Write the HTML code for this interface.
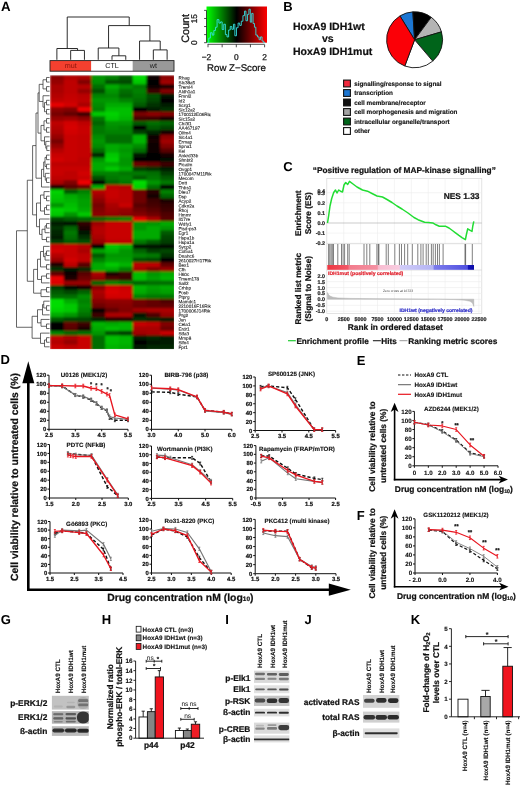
<!DOCTYPE html>
<html lang="en"><head><meta charset="utf-8"><title>Figure</title>
<style>
html,body{margin:0;padding:0;background:#fff;}
body{width:520px;height:785px;overflow:hidden;}
svg{display:block;font-family:"Liberation Sans",Arial,Helvetica,sans-serif;text-rendering:geometricPrecision;}
</style></head><body>
<svg width="520" height="785" viewBox="0 0 520 785">
<defs>
<filter id="hmblur" x="-5%" y="-5%" width="110%" height="110%"><feGaussianBlur stdDeviation="0.8"/></filter>
<filter id="bblur" x="-20%" y="-20%" width="140%" height="140%"><feGaussianBlur stdDeviation="0.6"/></filter>
<linearGradient id="keygrad" x1="0" x2="1" y1="0" y2="0"><stop offset="0" stop-color="#00ff00"/><stop offset="0.5" stop-color="#000000"/><stop offset="1" stop-color="#ff0000"/></linearGradient>
<linearGradient id="bandgrad" x1="0" x2="1" y1="0" y2="0">
<stop offset="0" stop-color="#ee3640"/><stop offset="0.14" stop-color="#f05868"/><stop offset="0.15" stop-color="#f27c8c"/><stop offset="0.34" stop-color="#f490a2"/>
<stop offset="0.35" stop-color="#f8bcd0"/><stop offset="0.49" stop-color="#f8cce0"/><stop offset="0.50" stop-color="#d0ccf8"/><stop offset="0.72" stop-color="#b4b4f4"/>
<stop offset="0.73" stop-color="#7c7cec"/><stop offset="0.955" stop-color="#5050e0"/><stop offset="0.96" stop-color="#1414b8"/><stop offset="1" stop-color="#0c0ca8"/>
</linearGradient>
</defs>
<rect width="520" height="785" fill="#fff"/>
<text x="0.90" y="10.80" font-size="13.3" font-weight="bold" fill="#000">A</text>
<g filter="url(#hmblur)">
<rect x="50.0" y="75.2" width="124.0" height="273.90" fill="#300"/>
<rect x="50.00" y="75.20" width="14.98" height="5.77" fill="#8c0000"/>
<rect x="63.78" y="75.20" width="14.98" height="5.77" fill="#b40000"/>
<rect x="77.56" y="75.20" width="14.98" height="5.77" fill="#aa0000"/>
<rect x="91.33" y="75.20" width="14.98" height="5.77" fill="#009600"/>
<rect x="105.11" y="75.20" width="14.98" height="5.77" fill="#008200"/>
<rect x="118.89" y="75.20" width="14.98" height="5.77" fill="#005a00"/>
<rect x="132.67" y="75.20" width="14.98" height="5.77" fill="#00dc00"/>
<rect x="146.44" y="75.20" width="14.98" height="5.77" fill="#0a0000"/>
<rect x="160.22" y="75.20" width="14.98" height="5.77" fill="#8c0000"/>
<rect x="50.00" y="79.77" width="14.98" height="5.77" fill="#960000"/>
<rect x="63.78" y="79.77" width="14.98" height="5.77" fill="#be0000"/>
<rect x="77.56" y="79.77" width="14.98" height="5.77" fill="#820000"/>
<rect x="91.33" y="79.77" width="14.98" height="5.77" fill="#008c00"/>
<rect x="105.11" y="79.77" width="14.98" height="5.77" fill="#005000"/>
<rect x="118.89" y="79.77" width="14.98" height="5.77" fill="#004b00"/>
<rect x="132.67" y="79.77" width="14.98" height="5.77" fill="#00c800"/>
<rect x="146.44" y="79.77" width="14.98" height="5.77" fill="#000000"/>
<rect x="160.22" y="79.77" width="14.98" height="5.77" fill="#a00000"/>
<rect x="50.00" y="84.33" width="14.98" height="5.77" fill="#aa0000"/>
<rect x="63.78" y="84.33" width="14.98" height="5.77" fill="#be0000"/>
<rect x="77.56" y="84.33" width="14.98" height="5.77" fill="#b40000"/>
<rect x="91.33" y="84.33" width="14.98" height="5.77" fill="#006e00"/>
<rect x="105.11" y="84.33" width="14.98" height="5.77" fill="#00aa00"/>
<rect x="118.89" y="84.33" width="14.98" height="5.77" fill="#008c00"/>
<rect x="132.67" y="84.33" width="14.98" height="5.77" fill="#007800"/>
<rect x="146.44" y="84.33" width="14.98" height="5.77" fill="#0a0000"/>
<rect x="160.22" y="84.33" width="14.98" height="5.77" fill="#230000"/>
<rect x="50.00" y="88.90" width="14.98" height="5.77" fill="#aa0000"/>
<rect x="63.78" y="88.90" width="14.98" height="5.77" fill="#be0000"/>
<rect x="77.56" y="88.90" width="14.98" height="5.77" fill="#960000"/>
<rect x="91.33" y="88.90" width="14.98" height="5.77" fill="#005000"/>
<rect x="105.11" y="88.90" width="14.98" height="5.77" fill="#009600"/>
<rect x="118.89" y="88.90" width="14.98" height="5.77" fill="#006e00"/>
<rect x="132.67" y="88.90" width="14.98" height="5.77" fill="#008200"/>
<rect x="146.44" y="88.90" width="14.98" height="5.77" fill="#3c0000"/>
<rect x="160.22" y="88.90" width="14.98" height="5.77" fill="#820000"/>
<rect x="50.00" y="93.46" width="14.98" height="5.77" fill="#b40000"/>
<rect x="63.78" y="93.46" width="14.98" height="5.77" fill="#c30000"/>
<rect x="77.56" y="93.46" width="14.98" height="5.77" fill="#b90000"/>
<rect x="91.33" y="93.46" width="14.98" height="5.77" fill="#008200"/>
<rect x="105.11" y="93.46" width="14.98" height="5.77" fill="#008700"/>
<rect x="118.89" y="93.46" width="14.98" height="5.77" fill="#006400"/>
<rect x="132.67" y="93.46" width="14.98" height="5.77" fill="#007800"/>
<rect x="146.44" y="93.46" width="14.98" height="5.77" fill="#005000"/>
<rect x="160.22" y="93.46" width="14.98" height="5.77" fill="#001400"/>
<rect x="50.00" y="98.03" width="14.98" height="5.77" fill="#be0000"/>
<rect x="63.78" y="98.03" width="14.98" height="5.77" fill="#c80000"/>
<rect x="77.56" y="98.03" width="14.98" height="5.77" fill="#be0000"/>
<rect x="91.33" y="98.03" width="14.98" height="5.77" fill="#009600"/>
<rect x="105.11" y="98.03" width="14.98" height="5.77" fill="#009600"/>
<rect x="118.89" y="98.03" width="14.98" height="5.77" fill="#008200"/>
<rect x="132.67" y="98.03" width="14.98" height="5.77" fill="#006e00"/>
<rect x="146.44" y="98.03" width="14.98" height="5.77" fill="#004600"/>
<rect x="160.22" y="98.03" width="14.98" height="5.77" fill="#000000"/>
<rect x="50.00" y="102.59" width="14.98" height="5.77" fill="#e60000"/>
<rect x="63.78" y="102.59" width="14.98" height="5.77" fill="#d20000"/>
<rect x="77.56" y="102.59" width="14.98" height="5.77" fill="#aa0000"/>
<rect x="91.33" y="102.59" width="14.98" height="5.77" fill="#008c00"/>
<rect x="105.11" y="102.59" width="14.98" height="5.77" fill="#00aa00"/>
<rect x="118.89" y="102.59" width="14.98" height="5.77" fill="#00aa00"/>
<rect x="132.67" y="102.59" width="14.98" height="5.77" fill="#005a00"/>
<rect x="146.44" y="102.59" width="14.98" height="5.77" fill="#003200"/>
<rect x="160.22" y="102.59" width="14.98" height="5.77" fill="#001e00"/>
<rect x="50.00" y="107.16" width="14.98" height="5.77" fill="#8c0000"/>
<rect x="63.78" y="107.16" width="14.98" height="5.77" fill="#820000"/>
<rect x="77.56" y="107.16" width="14.98" height="5.77" fill="#f00000"/>
<rect x="91.33" y="107.16" width="14.98" height="5.77" fill="#008200"/>
<rect x="105.11" y="107.16" width="14.98" height="5.77" fill="#00be00"/>
<rect x="118.89" y="107.16" width="14.98" height="5.77" fill="#00be00"/>
<rect x="132.67" y="107.16" width="14.98" height="5.77" fill="#000000"/>
<rect x="146.44" y="107.16" width="14.98" height="5.77" fill="#001e00"/>
<rect x="160.22" y="107.16" width="14.98" height="5.77" fill="#003200"/>
<rect x="50.00" y="111.72" width="14.98" height="5.77" fill="#780000"/>
<rect x="63.78" y="111.72" width="14.98" height="5.77" fill="#640000"/>
<rect x="77.56" y="111.72" width="14.98" height="5.77" fill="#3c0000"/>
<rect x="91.33" y="111.72" width="14.98" height="5.77" fill="#00c800"/>
<rect x="105.11" y="111.72" width="14.98" height="5.77" fill="#00d200"/>
<rect x="118.89" y="111.72" width="14.98" height="5.77" fill="#00be00"/>
<rect x="132.67" y="111.72" width="14.98" height="5.77" fill="#780000"/>
<rect x="146.44" y="111.72" width="14.98" height="5.77" fill="#8c0000"/>
<rect x="160.22" y="111.72" width="14.98" height="5.77" fill="#820000"/>
<rect x="50.00" y="116.28" width="14.98" height="5.77" fill="#960000"/>
<rect x="63.78" y="116.28" width="14.98" height="5.77" fill="#a00000"/>
<rect x="77.56" y="116.28" width="14.98" height="5.77" fill="#8c0000"/>
<rect x="91.33" y="116.28" width="14.98" height="5.77" fill="#007800"/>
<rect x="105.11" y="116.28" width="14.98" height="5.77" fill="#00c800"/>
<rect x="118.89" y="116.28" width="14.98" height="5.77" fill="#00b400"/>
<rect x="132.67" y="116.28" width="14.98" height="5.77" fill="#460000"/>
<rect x="146.44" y="116.28" width="14.98" height="5.77" fill="#3c0000"/>
<rect x="160.22" y="116.28" width="14.98" height="5.77" fill="#1e0000"/>
<rect x="50.00" y="120.85" width="14.98" height="5.77" fill="#be0000"/>
<rect x="63.78" y="120.85" width="14.98" height="5.77" fill="#d20000"/>
<rect x="77.56" y="120.85" width="14.98" height="5.77" fill="#be0000"/>
<rect x="91.33" y="120.85" width="14.98" height="5.77" fill="#006400"/>
<rect x="105.11" y="120.85" width="14.98" height="5.77" fill="#009600"/>
<rect x="118.89" y="120.85" width="14.98" height="5.77" fill="#009600"/>
<rect x="132.67" y="120.85" width="14.98" height="5.77" fill="#005a00"/>
<rect x="146.44" y="120.85" width="14.98" height="5.77" fill="#006e00"/>
<rect x="160.22" y="120.85" width="14.98" height="5.77" fill="#006400"/>
<rect x="50.00" y="125.42" width="14.98" height="5.77" fill="#b40000"/>
<rect x="63.78" y="125.42" width="14.98" height="5.77" fill="#d70000"/>
<rect x="77.56" y="125.42" width="14.98" height="5.77" fill="#c80000"/>
<rect x="91.33" y="125.42" width="14.98" height="5.77" fill="#007800"/>
<rect x="105.11" y="125.42" width="14.98" height="5.77" fill="#008c00"/>
<rect x="118.89" y="125.42" width="14.98" height="5.77" fill="#008200"/>
<rect x="132.67" y="125.42" width="14.98" height="5.77" fill="#000000"/>
<rect x="146.44" y="125.42" width="14.98" height="5.77" fill="#005a00"/>
<rect x="160.22" y="125.42" width="14.98" height="5.77" fill="#004600"/>
<rect x="50.00" y="129.98" width="14.98" height="5.77" fill="#aa0000"/>
<rect x="63.78" y="129.98" width="14.98" height="5.77" fill="#d20000"/>
<rect x="77.56" y="129.98" width="14.98" height="5.77" fill="#c80000"/>
<rect x="91.33" y="129.98" width="14.98" height="5.77" fill="#007800"/>
<rect x="105.11" y="129.98" width="14.98" height="5.77" fill="#008200"/>
<rect x="118.89" y="129.98" width="14.98" height="5.77" fill="#008200"/>
<rect x="132.67" y="129.98" width="14.98" height="5.77" fill="#003c00"/>
<rect x="146.44" y="129.98" width="14.98" height="5.77" fill="#002800"/>
<rect x="160.22" y="129.98" width="14.98" height="5.77" fill="#140000"/>
<rect x="50.00" y="134.55" width="14.98" height="5.77" fill="#960000"/>
<rect x="63.78" y="134.55" width="14.98" height="5.77" fill="#c80000"/>
<rect x="77.56" y="134.55" width="14.98" height="5.77" fill="#c30000"/>
<rect x="91.33" y="134.55" width="14.98" height="5.77" fill="#008c00"/>
<rect x="105.11" y="134.55" width="14.98" height="5.77" fill="#006e00"/>
<rect x="118.89" y="134.55" width="14.98" height="5.77" fill="#006e00"/>
<rect x="132.67" y="134.55" width="14.98" height="5.77" fill="#00b400"/>
<rect x="146.44" y="134.55" width="14.98" height="5.77" fill="#0a0000"/>
<rect x="160.22" y="134.55" width="14.98" height="5.77" fill="#8c0000"/>
<rect x="50.00" y="139.11" width="14.98" height="5.77" fill="#780000"/>
<rect x="63.78" y="139.11" width="14.98" height="5.77" fill="#c80000"/>
<rect x="77.56" y="139.11" width="14.98" height="5.77" fill="#c30000"/>
<rect x="91.33" y="139.11" width="14.98" height="5.77" fill="#009600"/>
<rect x="105.11" y="139.11" width="14.98" height="5.77" fill="#006e00"/>
<rect x="118.89" y="139.11" width="14.98" height="5.77" fill="#006e00"/>
<rect x="132.67" y="139.11" width="14.98" height="5.77" fill="#00b400"/>
<rect x="146.44" y="139.11" width="14.98" height="5.77" fill="#140000"/>
<rect x="160.22" y="139.11" width="14.98" height="5.77" fill="#a00000"/>
<rect x="50.00" y="143.68" width="14.98" height="5.77" fill="#960000"/>
<rect x="63.78" y="143.68" width="14.98" height="5.77" fill="#c80000"/>
<rect x="77.56" y="143.68" width="14.98" height="5.77" fill="#c30000"/>
<rect x="91.33" y="143.68" width="14.98" height="5.77" fill="#008c00"/>
<rect x="105.11" y="143.68" width="14.98" height="5.77" fill="#00aa00"/>
<rect x="118.89" y="143.68" width="14.98" height="5.77" fill="#00a000"/>
<rect x="132.67" y="143.68" width="14.98" height="5.77" fill="#008c00"/>
<rect x="146.44" y="143.68" width="14.98" height="5.77" fill="#0a0000"/>
<rect x="160.22" y="143.68" width="14.98" height="5.77" fill="#820000"/>
<rect x="50.00" y="148.24" width="14.98" height="5.77" fill="#b40000"/>
<rect x="63.78" y="148.24" width="14.98" height="5.77" fill="#c80000"/>
<rect x="77.56" y="148.24" width="14.98" height="5.77" fill="#c30000"/>
<rect x="91.33" y="148.24" width="14.98" height="5.77" fill="#006e00"/>
<rect x="105.11" y="148.24" width="14.98" height="5.77" fill="#00aa00"/>
<rect x="118.89" y="148.24" width="14.98" height="5.77" fill="#009600"/>
<rect x="132.67" y="148.24" width="14.98" height="5.77" fill="#006e00"/>
<rect x="146.44" y="148.24" width="14.98" height="5.77" fill="#0a0000"/>
<rect x="160.22" y="148.24" width="14.98" height="5.77" fill="#5a0000"/>
<rect x="50.00" y="152.81" width="14.98" height="5.77" fill="#c80000"/>
<rect x="63.78" y="152.81" width="14.98" height="5.77" fill="#c80000"/>
<rect x="77.56" y="152.81" width="14.98" height="5.77" fill="#c30000"/>
<rect x="91.33" y="152.81" width="14.98" height="5.77" fill="#002800"/>
<rect x="105.11" y="152.81" width="14.98" height="5.77" fill="#00c800"/>
<rect x="118.89" y="152.81" width="14.98" height="5.77" fill="#00a000"/>
<rect x="132.67" y="152.81" width="14.98" height="5.77" fill="#001400"/>
<rect x="146.44" y="152.81" width="14.98" height="5.77" fill="#000000"/>
<rect x="160.22" y="152.81" width="14.98" height="5.77" fill="#140000"/>
<rect x="50.00" y="157.37" width="14.98" height="5.77" fill="#d20000"/>
<rect x="63.78" y="157.37" width="14.98" height="5.77" fill="#c80000"/>
<rect x="77.56" y="157.37" width="14.98" height="5.77" fill="#be0000"/>
<rect x="91.33" y="157.37" width="14.98" height="5.77" fill="#009600"/>
<rect x="105.11" y="157.37" width="14.98" height="5.77" fill="#00d200"/>
<rect x="118.89" y="157.37" width="14.98" height="5.77" fill="#009600"/>
<rect x="132.67" y="157.37" width="14.98" height="5.77" fill="#000000"/>
<rect x="146.44" y="157.37" width="14.98" height="5.77" fill="#000000"/>
<rect x="160.22" y="157.37" width="14.98" height="5.77" fill="#000a00"/>
<rect x="50.00" y="161.94" width="14.98" height="5.77" fill="#be0000"/>
<rect x="63.78" y="161.94" width="14.98" height="5.77" fill="#be0000"/>
<rect x="77.56" y="161.94" width="14.98" height="5.77" fill="#be0000"/>
<rect x="91.33" y="161.94" width="14.98" height="5.77" fill="#00aa00"/>
<rect x="105.11" y="161.94" width="14.98" height="5.77" fill="#00aa00"/>
<rect x="118.89" y="161.94" width="14.98" height="5.77" fill="#009600"/>
<rect x="132.67" y="161.94" width="14.98" height="5.77" fill="#6e0000"/>
<rect x="146.44" y="161.94" width="14.98" height="5.77" fill="#640000"/>
<rect x="160.22" y="161.94" width="14.98" height="5.77" fill="#3c0000"/>
<rect x="50.00" y="166.50" width="14.98" height="5.77" fill="#c80000"/>
<rect x="63.78" y="166.50" width="14.98" height="5.77" fill="#c80000"/>
<rect x="77.56" y="166.50" width="14.98" height="5.77" fill="#c80000"/>
<rect x="91.33" y="166.50" width="14.98" height="5.77" fill="#00aa00"/>
<rect x="105.11" y="166.50" width="14.98" height="5.77" fill="#00c800"/>
<rect x="118.89" y="166.50" width="14.98" height="5.77" fill="#00aa00"/>
<rect x="132.67" y="166.50" width="14.98" height="5.77" fill="#003c00"/>
<rect x="146.44" y="166.50" width="14.98" height="5.77" fill="#003200"/>
<rect x="160.22" y="166.50" width="14.98" height="5.77" fill="#001e00"/>
<rect x="50.00" y="171.06" width="14.98" height="5.77" fill="#c80000"/>
<rect x="63.78" y="171.06" width="14.98" height="5.77" fill="#be0000"/>
<rect x="77.56" y="171.06" width="14.98" height="5.77" fill="#d20000"/>
<rect x="91.33" y="171.06" width="14.98" height="5.77" fill="#008200"/>
<rect x="105.11" y="171.06" width="14.98" height="5.77" fill="#008200"/>
<rect x="118.89" y="171.06" width="14.98" height="5.77" fill="#007800"/>
<rect x="132.67" y="171.06" width="14.98" height="5.77" fill="#007800"/>
<rect x="146.44" y="171.06" width="14.98" height="5.77" fill="#006e00"/>
<rect x="160.22" y="171.06" width="14.98" height="5.77" fill="#003c00"/>
<rect x="50.00" y="175.63" width="14.98" height="5.77" fill="#be0000"/>
<rect x="63.78" y="175.63" width="14.98" height="5.77" fill="#be0000"/>
<rect x="77.56" y="175.63" width="14.98" height="5.77" fill="#c80000"/>
<rect x="91.33" y="175.63" width="14.98" height="5.77" fill="#005000"/>
<rect x="105.11" y="175.63" width="14.98" height="5.77" fill="#007800"/>
<rect x="118.89" y="175.63" width="14.98" height="5.77" fill="#008200"/>
<rect x="132.67" y="175.63" width="14.98" height="5.77" fill="#005a00"/>
<rect x="146.44" y="175.63" width="14.98" height="5.77" fill="#007800"/>
<rect x="160.22" y="175.63" width="14.98" height="5.77" fill="#005a00"/>
<rect x="50.00" y="180.19" width="14.98" height="5.77" fill="#aa0000"/>
<rect x="63.78" y="180.19" width="14.98" height="5.77" fill="#820000"/>
<rect x="77.56" y="180.19" width="14.98" height="5.77" fill="#f00000"/>
<rect x="91.33" y="180.19" width="14.98" height="5.77" fill="#000000"/>
<rect x="105.11" y="180.19" width="14.98" height="5.77" fill="#006400"/>
<rect x="118.89" y="180.19" width="14.98" height="5.77" fill="#007800"/>
<rect x="132.67" y="180.19" width="14.98" height="5.77" fill="#00dc00"/>
<rect x="146.44" y="180.19" width="14.98" height="5.77" fill="#009600"/>
<rect x="160.22" y="180.19" width="14.98" height="5.77" fill="#007800"/>
<rect x="50.00" y="184.76" width="14.98" height="5.77" fill="#1e0000"/>
<rect x="63.78" y="184.76" width="14.98" height="5.77" fill="#5a0000"/>
<rect x="77.56" y="184.76" width="14.98" height="5.77" fill="#6e0000"/>
<rect x="91.33" y="184.76" width="14.98" height="5.77" fill="#00aa00"/>
<rect x="105.11" y="184.76" width="14.98" height="5.77" fill="#be0000"/>
<rect x="118.89" y="184.76" width="14.98" height="5.77" fill="#b40000"/>
<rect x="132.67" y="184.76" width="14.98" height="5.77" fill="#00d200"/>
<rect x="146.44" y="184.76" width="14.98" height="5.77" fill="#006e00"/>
<rect x="160.22" y="184.76" width="14.98" height="5.77" fill="#000000"/>
<rect x="50.00" y="189.33" width="14.98" height="5.77" fill="#00d200"/>
<rect x="63.78" y="189.33" width="14.98" height="5.77" fill="#005a00"/>
<rect x="77.56" y="189.33" width="14.98" height="5.77" fill="#008200"/>
<rect x="91.33" y="189.33" width="14.98" height="5.77" fill="#b40000"/>
<rect x="105.11" y="189.33" width="14.98" height="5.77" fill="#c80000"/>
<rect x="118.89" y="189.33" width="14.98" height="5.77" fill="#be0000"/>
<rect x="132.67" y="189.33" width="14.98" height="5.77" fill="#6e0000"/>
<rect x="146.44" y="189.33" width="14.98" height="5.77" fill="#280000"/>
<rect x="160.22" y="189.33" width="14.98" height="5.77" fill="#008200"/>
<rect x="50.00" y="193.89" width="14.98" height="5.77" fill="#00c800"/>
<rect x="63.78" y="193.89" width="14.98" height="5.77" fill="#00aa00"/>
<rect x="77.56" y="193.89" width="14.98" height="5.77" fill="#009600"/>
<rect x="91.33" y="193.89" width="14.98" height="5.77" fill="#a00000"/>
<rect x="105.11" y="193.89" width="14.98" height="5.77" fill="#c80000"/>
<rect x="118.89" y="193.89" width="14.98" height="5.77" fill="#be0000"/>
<rect x="132.67" y="193.89" width="14.98" height="5.77" fill="#6e0000"/>
<rect x="146.44" y="193.89" width="14.98" height="5.77" fill="#140000"/>
<rect x="160.22" y="193.89" width="14.98" height="5.77" fill="#006400"/>
<rect x="50.00" y="198.46" width="14.98" height="5.77" fill="#00be00"/>
<rect x="63.78" y="198.46" width="14.98" height="5.77" fill="#00b400"/>
<rect x="77.56" y="198.46" width="14.98" height="5.77" fill="#00a000"/>
<rect x="91.33" y="198.46" width="14.98" height="5.77" fill="#8c0000"/>
<rect x="105.11" y="198.46" width="14.98" height="5.77" fill="#be0000"/>
<rect x="118.89" y="198.46" width="14.98" height="5.77" fill="#be0000"/>
<rect x="132.67" y="198.46" width="14.98" height="5.77" fill="#6e0000"/>
<rect x="146.44" y="198.46" width="14.98" height="5.77" fill="#3c0000"/>
<rect x="160.22" y="198.46" width="14.98" height="5.77" fill="#1e0000"/>
<rect x="50.00" y="203.02" width="14.98" height="5.77" fill="#009600"/>
<rect x="63.78" y="203.02" width="14.98" height="5.77" fill="#00be00"/>
<rect x="77.56" y="203.02" width="14.98" height="5.77" fill="#00a000"/>
<rect x="91.33" y="203.02" width="14.98" height="5.77" fill="#780000"/>
<rect x="105.11" y="203.02" width="14.98" height="5.77" fill="#aa0000"/>
<rect x="118.89" y="203.02" width="14.98" height="5.77" fill="#c80000"/>
<rect x="132.67" y="203.02" width="14.98" height="5.77" fill="#5a0000"/>
<rect x="146.44" y="203.02" width="14.98" height="5.77" fill="#460000"/>
<rect x="160.22" y="203.02" width="14.98" height="5.77" fill="#320000"/>
<rect x="50.00" y="207.59" width="14.98" height="5.77" fill="#00d200"/>
<rect x="63.78" y="207.59" width="14.98" height="5.77" fill="#00c800"/>
<rect x="77.56" y="207.59" width="14.98" height="5.77" fill="#00aa00"/>
<rect x="91.33" y="207.59" width="14.98" height="5.77" fill="#820000"/>
<rect x="105.11" y="207.59" width="14.98" height="5.77" fill="#a00000"/>
<rect x="118.89" y="207.59" width="14.98" height="5.77" fill="#960000"/>
<rect x="132.67" y="207.59" width="14.98" height="5.77" fill="#6e0000"/>
<rect x="146.44" y="207.59" width="14.98" height="5.77" fill="#5a0000"/>
<rect x="160.22" y="207.59" width="14.98" height="5.77" fill="#3c0000"/>
<rect x="50.00" y="212.15" width="14.98" height="5.77" fill="#00c800"/>
<rect x="63.78" y="212.15" width="14.98" height="5.77" fill="#009600"/>
<rect x="77.56" y="212.15" width="14.98" height="5.77" fill="#00c800"/>
<rect x="91.33" y="212.15" width="14.98" height="5.77" fill="#8c0000"/>
<rect x="105.11" y="212.15" width="14.98" height="5.77" fill="#960000"/>
<rect x="118.89" y="212.15" width="14.98" height="5.77" fill="#8c0000"/>
<rect x="132.67" y="212.15" width="14.98" height="5.77" fill="#820000"/>
<rect x="146.44" y="212.15" width="14.98" height="5.77" fill="#6e0000"/>
<rect x="160.22" y="212.15" width="14.98" height="5.77" fill="#500000"/>
<rect x="50.00" y="216.72" width="14.98" height="5.77" fill="#004600"/>
<rect x="63.78" y="216.72" width="14.98" height="5.77" fill="#005a00"/>
<rect x="77.56" y="216.72" width="14.98" height="5.77" fill="#006400"/>
<rect x="91.33" y="216.72" width="14.98" height="5.77" fill="#006400"/>
<rect x="105.11" y="216.72" width="14.98" height="5.77" fill="#007800"/>
<rect x="118.89" y="216.72" width="14.98" height="5.77" fill="#008200"/>
<rect x="132.67" y="216.72" width="14.98" height="5.77" fill="#e60000"/>
<rect x="146.44" y="216.72" width="14.98" height="5.77" fill="#aa0000"/>
<rect x="160.22" y="216.72" width="14.98" height="5.77" fill="#5a0000"/>
<rect x="50.00" y="221.28" width="14.98" height="5.77" fill="#001e00"/>
<rect x="63.78" y="221.28" width="14.98" height="5.77" fill="#001400"/>
<rect x="77.56" y="221.28" width="14.98" height="5.77" fill="#320000"/>
<rect x="91.33" y="221.28" width="14.98" height="5.77" fill="#a00000"/>
<rect x="105.11" y="221.28" width="14.98" height="5.77" fill="#c80000"/>
<rect x="118.89" y="221.28" width="14.98" height="5.77" fill="#c80000"/>
<rect x="132.67" y="221.28" width="14.98" height="5.77" fill="#009600"/>
<rect x="146.44" y="221.28" width="14.98" height="5.77" fill="#009600"/>
<rect x="160.22" y="221.28" width="14.98" height="5.77" fill="#00aa00"/>
<rect x="50.00" y="225.85" width="14.98" height="5.77" fill="#003200"/>
<rect x="63.78" y="225.85" width="14.98" height="5.77" fill="#006400"/>
<rect x="77.56" y="225.85" width="14.98" height="5.77" fill="#1e0000"/>
<rect x="91.33" y="225.85" width="14.98" height="5.77" fill="#b40000"/>
<rect x="105.11" y="225.85" width="14.98" height="5.77" fill="#c80000"/>
<rect x="118.89" y="225.85" width="14.98" height="5.77" fill="#c80000"/>
<rect x="132.67" y="225.85" width="14.98" height="5.77" fill="#009600"/>
<rect x="146.44" y="225.85" width="14.98" height="5.77" fill="#00aa00"/>
<rect x="160.22" y="225.85" width="14.98" height="5.77" fill="#009600"/>
<rect x="50.00" y="230.41" width="14.98" height="5.77" fill="#002800"/>
<rect x="63.78" y="230.41" width="14.98" height="5.77" fill="#007800"/>
<rect x="77.56" y="230.41" width="14.98" height="5.77" fill="#001400"/>
<rect x="91.33" y="230.41" width="14.98" height="5.77" fill="#b40000"/>
<rect x="105.11" y="230.41" width="14.98" height="5.77" fill="#c80000"/>
<rect x="118.89" y="230.41" width="14.98" height="5.77" fill="#c80000"/>
<rect x="132.67" y="230.41" width="14.98" height="5.77" fill="#00aa00"/>
<rect x="146.44" y="230.41" width="14.98" height="5.77" fill="#00aa00"/>
<rect x="160.22" y="230.41" width="14.98" height="5.77" fill="#005a00"/>
<rect x="50.00" y="234.98" width="14.98" height="5.77" fill="#001e00"/>
<rect x="63.78" y="234.98" width="14.98" height="5.77" fill="#006e00"/>
<rect x="77.56" y="234.98" width="14.98" height="5.77" fill="#003200"/>
<rect x="91.33" y="234.98" width="14.98" height="5.77" fill="#aa0000"/>
<rect x="105.11" y="234.98" width="14.98" height="5.77" fill="#c80000"/>
<rect x="118.89" y="234.98" width="14.98" height="5.77" fill="#c80000"/>
<rect x="132.67" y="234.98" width="14.98" height="5.77" fill="#00aa00"/>
<rect x="146.44" y="234.98" width="14.98" height="5.77" fill="#00aa00"/>
<rect x="160.22" y="234.98" width="14.98" height="5.77" fill="#004600"/>
<rect x="50.00" y="239.54" width="14.98" height="5.77" fill="#003c00"/>
<rect x="63.78" y="239.54" width="14.98" height="5.77" fill="#005a00"/>
<rect x="77.56" y="239.54" width="14.98" height="5.77" fill="#005000"/>
<rect x="91.33" y="239.54" width="14.98" height="5.77" fill="#960000"/>
<rect x="105.11" y="239.54" width="14.98" height="5.77" fill="#be0000"/>
<rect x="118.89" y="239.54" width="14.98" height="5.77" fill="#be0000"/>
<rect x="132.67" y="239.54" width="14.98" height="5.77" fill="#007800"/>
<rect x="146.44" y="239.54" width="14.98" height="5.77" fill="#005a00"/>
<rect x="160.22" y="239.54" width="14.98" height="5.77" fill="#003c00"/>
<rect x="50.00" y="244.11" width="14.98" height="5.77" fill="#c80000"/>
<rect x="63.78" y="244.11" width="14.98" height="5.77" fill="#c80000"/>
<rect x="77.56" y="244.11" width="14.98" height="5.77" fill="#b40000"/>
<rect x="91.33" y="244.11" width="14.98" height="5.77" fill="#000000"/>
<rect x="105.11" y="244.11" width="14.98" height="5.77" fill="#00c800"/>
<rect x="118.89" y="244.11" width="14.98" height="5.77" fill="#00b400"/>
<rect x="132.67" y="244.11" width="14.98" height="5.77" fill="#001400"/>
<rect x="146.44" y="244.11" width="14.98" height="5.77" fill="#001400"/>
<rect x="160.22" y="244.11" width="14.98" height="5.77" fill="#000a00"/>
<rect x="50.00" y="248.67" width="14.98" height="5.77" fill="#d20000"/>
<rect x="63.78" y="248.67" width="14.98" height="5.77" fill="#c80000"/>
<rect x="77.56" y="248.67" width="14.98" height="5.77" fill="#aa0000"/>
<rect x="91.33" y="248.67" width="14.98" height="5.77" fill="#00a000"/>
<rect x="105.11" y="248.67" width="14.98" height="5.77" fill="#00b400"/>
<rect x="118.89" y="248.67" width="14.98" height="5.77" fill="#009600"/>
<rect x="132.67" y="248.67" width="14.98" height="5.77" fill="#006400"/>
<rect x="146.44" y="248.67" width="14.98" height="5.77" fill="#003c00"/>
<rect x="160.22" y="248.67" width="14.98" height="5.77" fill="#004600"/>
<rect x="50.00" y="253.24" width="14.98" height="5.77" fill="#b40000"/>
<rect x="63.78" y="253.24" width="14.98" height="5.77" fill="#c80000"/>
<rect x="77.56" y="253.24" width="14.98" height="5.77" fill="#be0000"/>
<rect x="91.33" y="253.24" width="14.98" height="5.77" fill="#005a00"/>
<rect x="105.11" y="253.24" width="14.98" height="5.77" fill="#009600"/>
<rect x="118.89" y="253.24" width="14.98" height="5.77" fill="#009600"/>
<rect x="132.67" y="253.24" width="14.98" height="5.77" fill="#008200"/>
<rect x="146.44" y="253.24" width="14.98" height="5.77" fill="#007800"/>
<rect x="160.22" y="253.24" width="14.98" height="5.77" fill="#003200"/>
<rect x="50.00" y="257.80" width="14.98" height="5.77" fill="#960000"/>
<rect x="63.78" y="257.80" width="14.98" height="5.77" fill="#d20000"/>
<rect x="77.56" y="257.80" width="14.98" height="5.77" fill="#be0000"/>
<rect x="91.33" y="257.80" width="14.98" height="5.77" fill="#008200"/>
<rect x="105.11" y="257.80" width="14.98" height="5.77" fill="#00a000"/>
<rect x="118.89" y="257.80" width="14.98" height="5.77" fill="#00a000"/>
<rect x="132.67" y="257.80" width="14.98" height="5.77" fill="#005000"/>
<rect x="146.44" y="257.80" width="14.98" height="5.77" fill="#004600"/>
<rect x="160.22" y="257.80" width="14.98" height="5.77" fill="#000000"/>
<rect x="50.00" y="262.37" width="14.98" height="5.77" fill="#1e0000"/>
<rect x="63.78" y="262.37" width="14.98" height="5.77" fill="#be0000"/>
<rect x="77.56" y="262.37" width="14.98" height="5.77" fill="#5a0000"/>
<rect x="91.33" y="262.37" width="14.98" height="5.77" fill="#00aa00"/>
<rect x="105.11" y="262.37" width="14.98" height="5.77" fill="#00c800"/>
<rect x="118.89" y="262.37" width="14.98" height="5.77" fill="#00b400"/>
<rect x="132.67" y="262.37" width="14.98" height="5.77" fill="#be0000"/>
<rect x="146.44" y="262.37" width="14.98" height="5.77" fill="#be0000"/>
<rect x="160.22" y="262.37" width="14.98" height="5.77" fill="#640000"/>
<rect x="50.00" y="266.93" width="14.98" height="5.77" fill="#003200"/>
<rect x="63.78" y="266.93" width="14.98" height="5.77" fill="#001400"/>
<rect x="77.56" y="266.93" width="14.98" height="5.77" fill="#002800"/>
<rect x="91.33" y="266.93" width="14.98" height="5.77" fill="#00aa00"/>
<rect x="105.11" y="266.93" width="14.98" height="5.77" fill="#00aa00"/>
<rect x="118.89" y="266.93" width="14.98" height="5.77" fill="#008200"/>
<rect x="132.67" y="266.93" width="14.98" height="5.77" fill="#aa0000"/>
<rect x="146.44" y="266.93" width="14.98" height="5.77" fill="#820000"/>
<rect x="160.22" y="266.93" width="14.98" height="5.77" fill="#960000"/>
<rect x="50.00" y="271.50" width="14.98" height="5.77" fill="#640000"/>
<rect x="63.78" y="271.50" width="14.98" height="5.77" fill="#0a0000"/>
<rect x="77.56" y="271.50" width="14.98" height="5.77" fill="#5a0000"/>
<rect x="91.33" y="271.50" width="14.98" height="5.77" fill="#aa0000"/>
<rect x="105.11" y="271.50" width="14.98" height="5.77" fill="#1e0000"/>
<rect x="118.89" y="271.50" width="14.98" height="5.77" fill="#3c0000"/>
<rect x="132.67" y="271.50" width="14.98" height="5.77" fill="#00be00"/>
<rect x="146.44" y="271.50" width="14.98" height="5.77" fill="#009600"/>
<rect x="160.22" y="271.50" width="14.98" height="5.77" fill="#00aa00"/>
<rect x="50.00" y="276.06" width="14.98" height="5.77" fill="#e60000"/>
<rect x="63.78" y="276.06" width="14.98" height="5.77" fill="#1e0000"/>
<rect x="77.56" y="276.06" width="14.98" height="5.77" fill="#6e0000"/>
<rect x="91.33" y="276.06" width="14.98" height="5.77" fill="#960000"/>
<rect x="105.11" y="276.06" width="14.98" height="5.77" fill="#500000"/>
<rect x="118.89" y="276.06" width="14.98" height="5.77" fill="#3c0000"/>
<rect x="132.67" y="276.06" width="14.98" height="5.77" fill="#00be00"/>
<rect x="146.44" y="276.06" width="14.98" height="5.77" fill="#00a000"/>
<rect x="160.22" y="276.06" width="14.98" height="5.77" fill="#00b400"/>
<rect x="50.00" y="280.62" width="14.98" height="5.77" fill="#dc0000"/>
<rect x="63.78" y="280.62" width="14.98" height="5.77" fill="#960000"/>
<rect x="77.56" y="280.62" width="14.98" height="5.77" fill="#960000"/>
<rect x="91.33" y="280.62" width="14.98" height="5.77" fill="#006400"/>
<rect x="105.11" y="280.62" width="14.98" height="5.77" fill="#008200"/>
<rect x="118.89" y="280.62" width="14.98" height="5.77" fill="#007800"/>
<rect x="132.67" y="280.62" width="14.98" height="5.77" fill="#006400"/>
<rect x="146.44" y="280.62" width="14.98" height="5.77" fill="#006e00"/>
<rect x="160.22" y="280.62" width="14.98" height="5.77" fill="#006e00"/>
<rect x="50.00" y="285.19" width="14.98" height="5.77" fill="#003c00"/>
<rect x="63.78" y="285.19" width="14.98" height="5.77" fill="#000a00"/>
<rect x="77.56" y="285.19" width="14.98" height="5.77" fill="#1e0000"/>
<rect x="91.33" y="285.19" width="14.98" height="5.77" fill="#8c0000"/>
<rect x="105.11" y="285.19" width="14.98" height="5.77" fill="#d20000"/>
<rect x="118.89" y="285.19" width="14.98" height="5.77" fill="#c80000"/>
<rect x="132.67" y="285.19" width="14.98" height="5.77" fill="#00b400"/>
<rect x="146.44" y="285.19" width="14.98" height="5.77" fill="#00a000"/>
<rect x="160.22" y="285.19" width="14.98" height="5.77" fill="#00aa00"/>
<rect x="50.00" y="289.75" width="14.98" height="5.77" fill="#005a00"/>
<rect x="63.78" y="289.75" width="14.98" height="5.77" fill="#004600"/>
<rect x="77.56" y="289.75" width="14.98" height="5.77" fill="#006400"/>
<rect x="91.33" y="289.75" width="14.98" height="5.77" fill="#aa0000"/>
<rect x="105.11" y="289.75" width="14.98" height="5.77" fill="#dc0000"/>
<rect x="118.89" y="289.75" width="14.98" height="5.77" fill="#d20000"/>
<rect x="132.67" y="289.75" width="14.98" height="5.77" fill="#00aa00"/>
<rect x="146.44" y="289.75" width="14.98" height="5.77" fill="#009600"/>
<rect x="160.22" y="289.75" width="14.98" height="5.77" fill="#00a000"/>
<rect x="50.00" y="294.32" width="14.98" height="5.77" fill="#006e00"/>
<rect x="63.78" y="294.32" width="14.98" height="5.77" fill="#006e00"/>
<rect x="77.56" y="294.32" width="14.98" height="5.77" fill="#008c00"/>
<rect x="91.33" y="294.32" width="14.98" height="5.77" fill="#a00000"/>
<rect x="105.11" y="294.32" width="14.98" height="5.77" fill="#d20000"/>
<rect x="118.89" y="294.32" width="14.98" height="5.77" fill="#d20000"/>
<rect x="132.67" y="294.32" width="14.98" height="5.77" fill="#008200"/>
<rect x="146.44" y="294.32" width="14.98" height="5.77" fill="#007800"/>
<rect x="160.22" y="294.32" width="14.98" height="5.77" fill="#007800"/>
<rect x="50.00" y="298.89" width="14.98" height="5.77" fill="#00dc00"/>
<rect x="63.78" y="298.89" width="14.98" height="5.77" fill="#00aa00"/>
<rect x="77.56" y="298.89" width="14.98" height="5.77" fill="#008200"/>
<rect x="91.33" y="298.89" width="14.98" height="5.77" fill="#870000"/>
<rect x="105.11" y="298.89" width="14.98" height="5.77" fill="#910000"/>
<rect x="118.89" y="298.89" width="14.98" height="5.77" fill="#910000"/>
<rect x="132.67" y="298.89" width="14.98" height="5.77" fill="#730000"/>
<rect x="146.44" y="298.89" width="14.98" height="5.77" fill="#640000"/>
<rect x="160.22" y="298.89" width="14.98" height="5.77" fill="#500000"/>
<rect x="50.00" y="303.45" width="14.98" height="5.77" fill="#00dc00"/>
<rect x="63.78" y="303.45" width="14.98" height="5.77" fill="#00c800"/>
<rect x="77.56" y="303.45" width="14.98" height="5.77" fill="#008c00"/>
<rect x="91.33" y="303.45" width="14.98" height="5.77" fill="#6e0000"/>
<rect x="105.11" y="303.45" width="14.98" height="5.77" fill="#820000"/>
<rect x="118.89" y="303.45" width="14.98" height="5.77" fill="#870000"/>
<rect x="132.67" y="303.45" width="14.98" height="5.77" fill="#6e0000"/>
<rect x="146.44" y="303.45" width="14.98" height="5.77" fill="#640000"/>
<rect x="160.22" y="303.45" width="14.98" height="5.77" fill="#640000"/>
<rect x="50.00" y="308.02" width="14.98" height="5.77" fill="#00d200"/>
<rect x="63.78" y="308.02" width="14.98" height="5.77" fill="#00c800"/>
<rect x="77.56" y="308.02" width="14.98" height="5.77" fill="#008200"/>
<rect x="91.33" y="308.02" width="14.98" height="5.77" fill="#0a0000"/>
<rect x="105.11" y="308.02" width="14.98" height="5.77" fill="#640000"/>
<rect x="118.89" y="308.02" width="14.98" height="5.77" fill="#820000"/>
<rect x="132.67" y="308.02" width="14.98" height="5.77" fill="#a00000"/>
<rect x="146.44" y="308.02" width="14.98" height="5.77" fill="#aa0000"/>
<rect x="160.22" y="308.02" width="14.98" height="5.77" fill="#aa0000"/>
<rect x="50.00" y="312.58" width="14.98" height="5.77" fill="#00aa00"/>
<rect x="63.78" y="312.58" width="14.98" height="5.77" fill="#009600"/>
<rect x="77.56" y="312.58" width="14.98" height="5.77" fill="#006e00"/>
<rect x="91.33" y="312.58" width="14.98" height="5.77" fill="#3c0000"/>
<rect x="105.11" y="312.58" width="14.98" height="5.77" fill="#aa0000"/>
<rect x="118.89" y="312.58" width="14.98" height="5.77" fill="#aa0000"/>
<rect x="132.67" y="312.58" width="14.98" height="5.77" fill="#001400"/>
<rect x="146.44" y="312.58" width="14.98" height="5.77" fill="#500000"/>
<rect x="160.22" y="312.58" width="14.98" height="5.77" fill="#960000"/>
<rect x="50.00" y="317.15" width="14.98" height="5.77" fill="#005a00"/>
<rect x="63.78" y="317.15" width="14.98" height="5.77" fill="#004600"/>
<rect x="77.56" y="317.15" width="14.98" height="5.77" fill="#004600"/>
<rect x="91.33" y="317.15" width="14.98" height="5.77" fill="#002800"/>
<rect x="105.11" y="317.15" width="14.98" height="5.77" fill="#280000"/>
<rect x="118.89" y="317.15" width="14.98" height="5.77" fill="#280000"/>
<rect x="132.67" y="317.15" width="14.98" height="5.77" fill="#003200"/>
<rect x="146.44" y="317.15" width="14.98" height="5.77" fill="#002800"/>
<rect x="160.22" y="317.15" width="14.98" height="5.77" fill="#001e00"/>
<rect x="50.00" y="321.71" width="14.98" height="5.77" fill="#000000"/>
<rect x="63.78" y="321.71" width="14.98" height="5.77" fill="#640000"/>
<rect x="77.56" y="321.71" width="14.98" height="5.77" fill="#3c0000"/>
<rect x="91.33" y="321.71" width="14.98" height="5.77" fill="#00b400"/>
<rect x="105.11" y="321.71" width="14.98" height="5.77" fill="#00aa00"/>
<rect x="118.89" y="321.71" width="14.98" height="5.77" fill="#00b400"/>
<rect x="132.67" y="321.71" width="14.98" height="5.77" fill="#c80000"/>
<rect x="146.44" y="321.71" width="14.98" height="5.77" fill="#be0000"/>
<rect x="160.22" y="321.71" width="14.98" height="5.77" fill="#820000"/>
<rect x="50.00" y="326.28" width="14.98" height="5.77" fill="#000000"/>
<rect x="63.78" y="326.28" width="14.98" height="5.77" fill="#5a0000"/>
<rect x="77.56" y="326.28" width="14.98" height="5.77" fill="#1e0000"/>
<rect x="91.33" y="326.28" width="14.98" height="5.77" fill="#00aa00"/>
<rect x="105.11" y="326.28" width="14.98" height="5.77" fill="#00be00"/>
<rect x="118.89" y="326.28" width="14.98" height="5.77" fill="#00b400"/>
<rect x="132.67" y="326.28" width="14.98" height="5.77" fill="#aa0000"/>
<rect x="146.44" y="326.28" width="14.98" height="5.77" fill="#aa0000"/>
<rect x="160.22" y="326.28" width="14.98" height="5.77" fill="#6e0000"/>
<rect x="50.00" y="330.84" width="14.98" height="5.77" fill="#008200"/>
<rect x="63.78" y="330.84" width="14.98" height="5.77" fill="#006400"/>
<rect x="77.56" y="330.84" width="14.98" height="5.77" fill="#006e00"/>
<rect x="91.33" y="330.84" width="14.98" height="5.77" fill="#009600"/>
<rect x="105.11" y="330.84" width="14.98" height="5.77" fill="#005000"/>
<rect x="118.89" y="330.84" width="14.98" height="5.77" fill="#003c00"/>
<rect x="132.67" y="330.84" width="14.98" height="5.77" fill="#a00000"/>
<rect x="146.44" y="330.84" width="14.98" height="5.77" fill="#aa0000"/>
<rect x="160.22" y="330.84" width="14.98" height="5.77" fill="#c80000"/>
<rect x="50.00" y="335.41" width="14.98" height="5.77" fill="#be0000"/>
<rect x="63.78" y="335.41" width="14.98" height="5.77" fill="#aa0000"/>
<rect x="77.56" y="335.41" width="14.98" height="5.77" fill="#c80000"/>
<rect x="91.33" y="335.41" width="14.98" height="5.77" fill="#006e00"/>
<rect x="105.11" y="335.41" width="14.98" height="5.77" fill="#00be00"/>
<rect x="118.89" y="335.41" width="14.98" height="5.77" fill="#00b400"/>
<rect x="132.67" y="335.41" width="14.98" height="5.77" fill="#001e00"/>
<rect x="146.44" y="335.41" width="14.98" height="5.77" fill="#002800"/>
<rect x="160.22" y="335.41" width="14.98" height="5.77" fill="#001e00"/>
<rect x="50.00" y="339.97" width="14.98" height="5.77" fill="#b40000"/>
<rect x="63.78" y="339.97" width="14.98" height="5.77" fill="#960000"/>
<rect x="77.56" y="339.97" width="14.98" height="5.77" fill="#c80000"/>
<rect x="91.33" y="339.97" width="14.98" height="5.77" fill="#006e00"/>
<rect x="105.11" y="339.97" width="14.98" height="5.77" fill="#00be00"/>
<rect x="118.89" y="339.97" width="14.98" height="5.77" fill="#00b400"/>
<rect x="132.67" y="339.97" width="14.98" height="5.77" fill="#000000"/>
<rect x="146.44" y="339.97" width="14.98" height="5.77" fill="#001400"/>
<rect x="160.22" y="339.97" width="14.98" height="5.77" fill="#001e00"/>
<rect x="50.00" y="344.54" width="14.98" height="5.77" fill="#c80000"/>
<rect x="63.78" y="344.54" width="14.98" height="5.77" fill="#be0000"/>
<rect x="77.56" y="344.54" width="14.98" height="5.77" fill="#c80000"/>
<rect x="91.33" y="344.54" width="14.98" height="5.77" fill="#006e00"/>
<rect x="105.11" y="344.54" width="14.98" height="5.77" fill="#00b400"/>
<rect x="118.89" y="344.54" width="14.98" height="5.77" fill="#00aa00"/>
<rect x="132.67" y="344.54" width="14.98" height="5.77" fill="#001400"/>
<rect x="146.44" y="344.54" width="14.98" height="5.77" fill="#002800"/>
<rect x="160.22" y="344.54" width="14.98" height="5.77" fill="#002800"/>
</g>
<rect x="46.0" y="71.2" width="4" height="281.90" fill="#fff"/>
<rect x="174.0" y="71.2" width="4" height="281.90" fill="#fff"/>
<rect x="46.0" y="71.2" width="132.0" height="4" fill="#fff"/>
<rect x="46.0" y="349.10" width="132.0" height="4" fill="#fff"/>
<g transform="rotate(0.03 178 210)">
<text x="178.50" y="79.60" font-size="4.6" fill="#111" stroke="#111" stroke-width="0.08">Rhag</text>
<text x="178.50" y="84.16" font-size="4.6" fill="#111" stroke="#111" stroke-width="0.08">Slc38a5</text>
<text x="178.50" y="88.73" font-size="4.6" fill="#111" stroke="#111" stroke-width="0.08">Treml4</text>
<text x="178.50" y="93.29" font-size="4.6" fill="#111" stroke="#111" stroke-width="0.08">Aldh1a1</text>
<text x="178.50" y="97.86" font-size="4.6" fill="#111" stroke="#111" stroke-width="0.08">Fmnl2</text>
<text x="178.50" y="102.42" font-size="4.6" fill="#111" stroke="#111" stroke-width="0.08">Id2</text>
<text x="178.50" y="106.99" font-size="4.6" fill="#111" stroke="#111" stroke-width="0.08">Scrg1</text>
<text x="178.50" y="111.55" font-size="4.6" fill="#111" stroke="#111" stroke-width="0.08">Slc12a2</text>
<text x="178.50" y="116.12" font-size="4.6" fill="#111" stroke="#111" stroke-width="0.08">1700112E06Rik</text>
<text x="178.50" y="120.69" font-size="4.6" fill="#111" stroke="#111" stroke-width="0.08">Slc15a2</text>
<text x="178.50" y="125.25" font-size="4.6" fill="#111" stroke="#111" stroke-width="0.08">Chi3l1</text>
<text x="178.50" y="129.81" font-size="4.6" fill="#111" stroke="#111" stroke-width="0.08">AA467197</text>
<text x="178.50" y="134.38" font-size="4.6" fill="#111" stroke="#111" stroke-width="0.08">Olfm4</text>
<text x="178.50" y="138.94" font-size="4.6" fill="#111" stroke="#111" stroke-width="0.08">Slc4a1</text>
<text x="178.50" y="143.51" font-size="4.6" fill="#111" stroke="#111" stroke-width="0.08">Ermap</text>
<text x="178.50" y="148.08" font-size="4.6" fill="#111" stroke="#111" stroke-width="0.08">Spna1</text>
<text x="178.50" y="152.64" font-size="4.6" fill="#111" stroke="#111" stroke-width="0.08">Kel</text>
<text x="178.50" y="157.21" font-size="4.6" fill="#111" stroke="#111" stroke-width="0.08">Ankrd33b</text>
<text x="178.50" y="161.77" font-size="4.6" fill="#111" stroke="#111" stroke-width="0.08">Sfmbt2</text>
<text x="178.50" y="166.34" font-size="4.6" fill="#111" stroke="#111" stroke-width="0.08">Picalm</text>
<text x="178.50" y="170.90" font-size="4.6" fill="#111" stroke="#111" stroke-width="0.08">Ovgp1</text>
<text x="178.50" y="175.47" font-size="4.6" fill="#111" stroke="#111" stroke-width="0.08">1700047M11Rik</text>
<text x="178.50" y="180.03" font-size="4.6" fill="#111" stroke="#111" stroke-width="0.08">Mecom</text>
<text x="178.50" y="184.59" font-size="4.6" fill="#111" stroke="#111" stroke-width="0.08">Dntt</text>
<text x="178.50" y="189.16" font-size="4.6" fill="#111" stroke="#111" stroke-width="0.08">Thbs1</text>
<text x="178.50" y="193.72" font-size="4.6" fill="#111" stroke="#111" stroke-width="0.08">Dleu7</text>
<text x="178.50" y="198.29" font-size="4.6" fill="#111" stroke="#111" stroke-width="0.08">Dsp</text>
<text x="178.50" y="202.85" font-size="4.6" fill="#111" stroke="#111" stroke-width="0.08">Acyp2</text>
<text x="178.50" y="207.42" font-size="4.6" fill="#111" stroke="#111" stroke-width="0.08">Cdkn2a</text>
<text x="178.50" y="211.99" font-size="4.6" fill="#111" stroke="#111" stroke-width="0.08">Rhoj</text>
<text x="178.50" y="216.55" font-size="4.6" fill="#111" stroke="#111" stroke-width="0.08">Hmmr</text>
<text x="178.50" y="221.12" font-size="4.6" fill="#111" stroke="#111" stroke-width="0.08">Il17re</text>
<text x="178.50" y="225.68" font-size="4.6" fill="#111" stroke="#111" stroke-width="0.08">Wdfy1</text>
<text x="178.50" y="230.25" font-size="4.6" fill="#111" stroke="#111" stroke-width="0.08">Pisd-ps3</text>
<text x="178.50" y="234.81" font-size="4.6" fill="#111" stroke="#111" stroke-width="0.08">Egr1</text>
<text x="178.50" y="239.38" font-size="4.6" fill="#111" stroke="#111" stroke-width="0.08">Hspa1b</text>
<text x="178.50" y="243.94" font-size="4.6" fill="#111" stroke="#111" stroke-width="0.08">Hspa1a</text>
<text x="178.50" y="248.50" font-size="4.6" fill="#111" stroke="#111" stroke-width="0.08">Sycp2</text>
<text x="178.50" y="253.07" font-size="4.6" fill="#111" stroke="#111" stroke-width="0.08">Col5a1</text>
<text x="178.50" y="257.64" font-size="4.6" fill="#111" stroke="#111" stroke-width="0.08">Dnahc6</text>
<text x="178.50" y="262.20" font-size="4.6" fill="#111" stroke="#111" stroke-width="0.08">2610027H17Rik</text>
<text x="178.50" y="266.77" font-size="4.6" fill="#111" stroke="#111" stroke-width="0.08">Bex1</text>
<text x="178.50" y="271.33" font-size="4.6" fill="#111" stroke="#111" stroke-width="0.08">Cfh</text>
<text x="178.50" y="275.90" font-size="4.6" fill="#111" stroke="#111" stroke-width="0.08">H60c</text>
<text x="178.50" y="280.46" font-size="4.6" fill="#111" stroke="#111" stroke-width="0.08">Tmem178</text>
<text x="178.50" y="285.03" font-size="4.6" fill="#111" stroke="#111" stroke-width="0.08">Sall2</text>
<text x="178.50" y="289.59" font-size="4.6" fill="#111" stroke="#111" stroke-width="0.08">Crhbp</text>
<text x="178.50" y="294.16" font-size="4.6" fill="#111" stroke="#111" stroke-width="0.08">Fosb</text>
<text x="178.50" y="298.72" font-size="4.6" fill="#111" stroke="#111" stroke-width="0.08">Ptprg</text>
<text x="178.50" y="303.29" font-size="4.6" fill="#111" stroke="#111" stroke-width="0.08">Mamdc1</text>
<text x="178.50" y="307.85" font-size="4.6" fill="#111" stroke="#111" stroke-width="0.08">2210016F16Rik</text>
<text x="178.50" y="312.42" font-size="4.6" fill="#111" stroke="#111" stroke-width="0.08">1700006J14Rik</text>
<text x="178.50" y="316.98" font-size="4.6" fill="#111" stroke="#111" stroke-width="0.08">Prg2</text>
<text x="178.50" y="321.55" font-size="4.6" fill="#111" stroke="#111" stroke-width="0.08">Jun</text>
<text x="178.50" y="326.11" font-size="4.6" fill="#111" stroke="#111" stroke-width="0.08">Cela1</text>
<text x="178.50" y="330.68" font-size="4.6" fill="#111" stroke="#111" stroke-width="0.08">Erdr1</text>
<text x="178.50" y="335.24" font-size="4.6" fill="#111" stroke="#111" stroke-width="0.08">Stfa3</text>
<text x="178.50" y="339.81" font-size="4.6" fill="#111" stroke="#111" stroke-width="0.08">Mmp8</text>
<text x="178.50" y="344.37" font-size="4.6" fill="#111" stroke="#111" stroke-width="0.08">Slfn4</text>
<text x="178.50" y="348.94" font-size="4.6" fill="#111" stroke="#111" stroke-width="0.08">Fpr1</text>
</g>
<rect x="50.00" y="60.6" width="41.33" height="10.6" fill="#f4402f"/>
<text x="70.67" y="68.40" font-size="7.2" text-anchor="middle" fill="#8a140a">mut</text>
<rect x="91.33" y="60.6" width="41.33" height="10.6" fill="#ffffff"/>
<text x="112.00" y="68.40" font-size="7.2" text-anchor="middle" fill="#111">CTL</text>
<rect x="132.67" y="60.6" width="41.33" height="10.6" fill="#999999"/>
<text x="153.33" y="68.40" font-size="7.2" text-anchor="middle" fill="#1a1a1a">wt</text>
<rect x="50.0" y="60.6" width="124.0" height="10.6" fill="none" stroke="#222" stroke-width="0.9"/>
<path d="M70.67 59.80V50.40H84.44V59.80M56.89 59.80V48.50H77.56V50.40M112.00 59.80V55.80H125.78V59.80M98.22 59.80V48.00H118.89V55.80M153.33 59.80V49.90H167.11V59.80M139.56 59.80V41.00H160.22V49.90M108.56 48.00V25.60H149.89V41.00M67.22 48.50V17.00H129.22V25.60" fill="none" stroke="#222" stroke-width="0.95"/>
<path d="M49.60 77.48H46.50V82.05H49.60M49.60 86.61H46.50V91.18H49.60M46.50 79.77H43.00V88.90H46.50M49.60 100.31H46.50V104.87H49.60M49.60 109.44H46.50V114.00H49.60M46.50 102.59H44.48V111.72H46.50M49.60 95.74H43.00V107.16H44.48M43.00 84.33H39.20V101.45H43.00M49.60 118.57H46.50V123.13H49.60M49.60 127.70H46.50V132.26H49.60M46.50 120.85H44.00V129.98H46.50M49.60 145.96H46.75V150.52H49.60M49.60 141.39H45.80V148.24H46.75M49.60 136.83H44.50V144.82H45.80M44.00 125.42H41.00V140.82H44.50M39.20 92.89H38.00V133.12H41.00M49.60 155.09H46.50V159.65H49.60M49.60 164.22H46.50V168.78H49.60M46.50 157.37H45.00V166.50H46.50M49.60 177.91H46.50V182.48H49.60M49.60 173.35H45.30V180.20H46.50M45.00 161.94H43.70V176.77H45.30M43.70 169.35H41.50V187.04H49.60M38.00 113.00H36.00V178.20H41.50M49.60 196.17H46.50V200.74H49.60M49.60 191.61H44.00V198.46H46.50M49.60 205.30H46.50V209.87H49.60M46.50 207.59H44.50V214.43H49.60M44.00 195.03H40.50V211.01H44.50M49.60 223.56H46.50V228.13H49.60M46.50 225.84H45.00V232.69H49.60M49.60 237.26H46.50V241.82H49.60M45.00 229.27H42.00V239.54H46.50M49.60 219.00H39.50V234.40H42.00M40.50 203.02H36.50V226.70H39.50M36.00 145.60H32.60V214.86H36.50M49.60 250.95H46.50V255.52H49.60M46.50 253.24H45.07V260.08H49.60M49.60 246.39H43.50V256.66H45.07M49.60 264.65H46.50V269.21H49.60M43.50 251.52H40.50V266.93H46.50M49.60 273.78H46.50V278.34H49.60M46.50 276.06H41.50V282.91H49.60M40.50 259.23H37.50V279.48H41.50M49.60 287.47H46.50V292.04H49.60M46.50 289.75H41.00V296.60H49.60M37.50 269.36H33.60V293.18H41.00M32.60 180.23H27.30V281.27H33.60M49.60 305.73H46.50V310.30H49.60M49.60 301.17H43.74V308.01H46.50M43.74 304.59H42.50V314.86H49.60M49.60 323.99H46.50V328.56H49.60M49.60 319.43H41.00V326.27H46.50M42.50 309.73H37.50V322.85H41.00M49.60 337.69H46.50V342.25H49.60M46.50 339.97H44.50V346.82H49.60M49.60 333.12H40.50V343.39H44.50M37.50 316.29H32.10V338.26H40.50M27.30 230.75H16.50V327.27H32.10" fill="none" stroke="#333" stroke-width="0.75"/>
<rect x="206.5" y="6.5" width="60.5" height="36.2" fill="url(#keygrad)"/>
<polyline points="207.62,42.70 208.77,42.70 208.77,38.08 210.39,38.08 210.39,32.77 212.23,32.77 212.23,35.08 213.85,35.08 213.85,30.46 215.47,30.46 215.47,27.23 217.08,27.23 217.08,19.62 218.93,19.62 218.93,23.08 220.54,23.08 220.54,21.92 222.16,21.92 222.16,29.54 223.77,29.54 223.77,24.23 225.39,24.23 225.39,34.62 227.00,34.62 227.00,36.93 228.62,36.93 228.62,30.00 230.24,30.00 230.24,26.54 231.85,26.54 231.85,29.31 233.47,29.31 233.47,24.23 234.85,24.23 234.85,35.77 236.47,35.77 236.47,27.69 238.08,27.69 238.08,23.08 239.70,23.08 239.70,25.39 241.31,25.39 241.31,21.23 242.93,21.23 242.93,15.69 244.54,15.69 244.54,11.08 245.93,11.08 245.93,20.77 247.54,20.77 247.54,14.31 248.93,14.31 248.93,9.23 250.31,9.23 250.31,22.16 251.70,22.16 251.70,13.39 253.08,13.39 253.08,23.54 254.47,23.54 254.47,27.23 255.85,27.23 255.85,35.08 257.47,35.08 257.47,36.93 259.08,36.93 259.08,39.70 260.47,39.70 260.47,36.93 262.08,36.93 262.08,41.08 263.70,41.08 263.70,42.70 265.08,42.70" fill="none" stroke="#35e0e0" stroke-width="0.9" stroke-linejoin="round"/>
<path d="M207.6 44.3H264.2M208.00 44.3v3M222.15 44.3v3M236.30 44.3v3M250.45 44.3v3M264.60 44.3v3M206.5 42.7V10.4M206.5 42.70h-2.4M206.5 34.62h-2.4M206.5 26.54h-2.4M206.5 18.46h-2.4M206.5 10.38h-2.4" fill="none" stroke="#222" stroke-width="0.8"/>
<text x="206.50" y="59.60" font-size="8.4" text-anchor="middle" fill="#111" stroke="#111" stroke-width="0.25">−2</text>
<text x="236.30" y="59.60" font-size="8.4" text-anchor="middle" fill="#111" stroke="#111" stroke-width="0.25">0</text>
<text x="264.60" y="59.60" font-size="8.4" text-anchor="middle" fill="#111" stroke="#111" stroke-width="0.25">2</text>
<text x="236.50" y="71.00" font-size="9.7" text-anchor="middle" fill="#111" stroke="#111" stroke-width="0.22">Row Z−Score</text>
<text transform="translate(188.50 28.30) rotate(-90)" font-size="10.8" text-anchor="middle" fill="#111" stroke="#111" stroke-width="0.28">Count</text>
<text transform="translate(196.60 42.70) rotate(-90)" font-size="8.3" text-anchor="middle" fill="#111" stroke="#111" stroke-width="0.25">0</text>
<text transform="translate(196.60 18.70) rotate(-90)" font-size="8.3" text-anchor="middle" fill="#111" stroke="#111" stroke-width="0.25">15</text>
<text x="283.30" y="11.20" font-size="13.0" font-weight="bold" fill="#000">B</text>
<text x="293.00" y="29.60" font-size="10.5" font-weight="bold" fill="#111" stroke="#111" stroke-width="0.22">HoxA9 IDH1wt</text>
<text x="322.00" y="42.10" font-size="10.5" font-weight="bold" fill="#111" stroke="#111" stroke-width="0.22">vs</text>
<text x="293.00" y="54.60" font-size="10.5" font-weight="bold" fill="#111" stroke="#111" stroke-width="0.22">HoxA9 IDH1mut</text>
<path d="M414.6 39.8L399.93 15.95A28.0 28.0 0 0 1 412.89 11.85Z" fill="#1c76d2" stroke="#111" stroke-width="0.9" stroke-linejoin="round"/>
<path d="M414.6 39.8L412.89 11.85A28.0 28.0 0 0 1 431.22 17.26Z" fill="#000000" stroke="#111" stroke-width="0.9" stroke-linejoin="round"/>
<path d="M414.6 39.8L431.22 17.26A28.0 28.0 0 0 1 441.45 31.85Z" fill="#b4b4b4" stroke="#111" stroke-width="0.9" stroke-linejoin="round"/>
<path d="M414.6 39.8L441.45 31.85A28.0 28.0 0 0 1 432.75 61.12Z" fill="#00641a" stroke="#111" stroke-width="0.9" stroke-linejoin="round"/>
<path d="M414.6 39.8L432.75 61.12A28.0 28.0 0 0 1 404.79 66.03Z" fill="#ffffff" stroke="#111" stroke-width="0.9" stroke-linejoin="round"/>
<path d="M414.6 39.8L404.79 66.03A28.0 28.0 0 0 1 399.93 15.95Z" fill="#fb0007" stroke="#111" stroke-width="0.9" stroke-linejoin="round"/>
<rect x="343.6" y="80.10" width="6.8" height="6.8" fill="#f0283c" stroke="#111" stroke-width="1.1"/>
<text x="354.20" y="85.90" font-size="6.35" font-weight="bold" fill="#111" stroke="#111" stroke-width="0.12">signalling/response to signal</text>
<rect x="343.6" y="89.60" width="6.8" height="6.8" fill="#1c76d2" stroke="#111" stroke-width="1.1"/>
<text x="354.20" y="95.40" font-size="6.35" font-weight="bold" fill="#111" stroke="#111" stroke-width="0.12">transcription</text>
<rect x="343.6" y="99.10" width="6.8" height="6.8" fill="#111" stroke="#111" stroke-width="1.1"/>
<text x="354.20" y="104.90" font-size="6.35" font-weight="bold" fill="#111" stroke="#111" stroke-width="0.12">cell membrane/receptor</text>
<rect x="343.6" y="108.60" width="6.8" height="6.8" fill="#a4a4a4" stroke="#111" stroke-width="1.1"/>
<text x="354.20" y="114.40" font-size="6.35" font-weight="bold" fill="#111" stroke="#111" stroke-width="0.12">cell morphogenesis and migration</text>
<rect x="343.6" y="118.10" width="6.8" height="6.8" fill="#00641a" stroke="#111" stroke-width="1.1"/>
<text x="354.20" y="123.90" font-size="6.35" font-weight="bold" fill="#111" stroke="#111" stroke-width="0.12">intracellular organelle/transport</text>
<rect x="343.6" y="127.60" width="6.8" height="6.8" fill="#fff" stroke="#111" stroke-width="1.1"/>
<text x="354.20" y="133.40" font-size="6.35" font-weight="bold" fill="#111" stroke="#111" stroke-width="0.12">other</text>
<text x="283.30" y="170.50" font-size="13.0" font-weight="bold" fill="#000">C</text>
<text x="404.30" y="173.30" font-size="8.3" font-weight="bold" text-anchor="middle" fill="#111" stroke="#111" stroke-width="0.22">“Positive regulation of MAP-kinase signalling”</text>
<rect x="326.8" y="178.5" width="155.0" height="135.0" fill="#fff" stroke="#d8d8d8" stroke-width="0.7"/>
<path d="M343.70 178.5V243.7M343.70 270V313.5M360.60 178.5V243.7M360.60 270V313.5M377.50 178.5V243.7M377.50 270V313.5M394.40 178.5V243.7M394.40 270V313.5M411.30 178.5V243.7M411.30 270V313.5M428.20 178.5V243.7M428.20 270V313.5M445.10 178.5V243.7M445.10 270V313.5M462.00 178.5V243.7M462.00 270V313.5M478.90 178.5V243.7M478.90 270V313.5M326.8 192.70H481.8M326.8 202.80H481.8M326.8 212.90H481.8M326.8 233.10H481.8M326.8 243.20H481.8M326.8 275.70H481.8M326.8 281.62H481.8M326.8 287.54H481.8M326.8 293.46H481.8M326.8 299.38H481.8M326.8 305.30H481.8M326.8 311.22H481.8" stroke="#ececec" stroke-width="0.6" fill="none"/>
<path d="M326.8 223H481.8" stroke="#aaa" stroke-width="0.6"/>
<path d="M326.8 243.7H481.8M326.8 270H481.8" stroke="#ccc" stroke-width="0.6"/>
<text x="325.00" y="194.70" font-size="5.4" font-weight="bold" text-anchor="end" fill="#222" stroke="#222" stroke-width="0.2">0.3</text>
<text x="325.00" y="204.80" font-size="5.4" font-weight="bold" text-anchor="end" fill="#222" stroke="#222" stroke-width="0.2">0.2</text>
<text x="325.00" y="214.90" font-size="5.4" font-weight="bold" text-anchor="end" fill="#222" stroke="#222" stroke-width="0.2">0.1</text>
<text x="325.00" y="225.00" font-size="5.4" font-weight="bold" text-anchor="end" fill="#222" stroke="#222" stroke-width="0.2">0.0</text>
<text x="325.00" y="235.10" font-size="5.4" font-weight="bold" text-anchor="end" fill="#222" stroke="#222" stroke-width="0.2">-0.1</text>
<text x="325.00" y="245.20" font-size="5.4" font-weight="bold" text-anchor="end" fill="#222" stroke="#222" stroke-width="0.2">-0.2</text>
<text x="325.00" y="192.50" font-size="5.4" font-weight="bold" text-anchor="end" fill="#222" stroke="#222" stroke-width="0.2">0.4</text>
<polyline points="327.5,223.0 328.7,215.5 330.0,206.0 331.7,198.5 333.7,192.5 335.5,190.0 337.0,193.0 338.7,190.0 340.5,191.2 342.5,192.0 344.0,185.0 345.7,182.5 347.7,184.5 349.5,181.3 353.0,184.0 357.0,187.0 362.5,190.0 367.5,191.2 372.0,193.5 377.0,196.0 382.5,197.0 387.0,199.5 392.0,202.5 397.0,206.0 402.0,209.0 408.0,213.0 414.0,217.5 418.0,219.7 424.6,222.3 428.5,222.6 432.7,222.9 436.0,224.8 439.3,226.2 445.8,226.3 449.0,228.0 452.4,230.5 455.5,232.8 458.9,235.4 462.0,237.6 465.4,239.7 466.3,235.0 467.7,228.8 469.8,230.2 472.0,231.4 472.8,226.0 473.8,221.4" fill="none" stroke="#22dd33" stroke-width="1.5" stroke-linejoin="round"/>
<text x="479.50" y="199.30" font-size="8.4" font-weight="bold" text-anchor="end" fill="#111" stroke="#111" stroke-width="0.22">NES 1.33</text>
<path d="M328.6 244V265M329.8 244V265M331.1 244V265M332.3 244V265M333.5 244V265M337.8 244V265M341.5 244V265M343.1 244V265M344.6 244V265M347.7 244V265M349.2 244V265M364.0 244V265M366.8 244V265M369.8 244V265M376.9 244V265M378.3 244V265M378.9 244V265M386.2 244V265M388.3 244V265M394.8 244V265M399.4 244V265M401.5 244V265M404.6 244V265M407.7 244V265M412.3 244V265M417.8 244V265M420.9 244V265M423.1 244V265M426.2 244V265M428.3 244V265M431.4 244V265M433.2 244V265M435.4 244V265M437.5 244V265M439.4 244V265M443.1 244V265M465.0 244V265M465.6 244V265M472.3 244V265" stroke="#3a3a3a" stroke-width="0.65" fill="none"/>
<rect x="327.3" y="265" width="146.7" height="4.8" fill="url(#bandgrad)"/>
<text x="328.00" y="275.00" font-size="5.1" font-weight="bold" fill="#e0202c" stroke="#e0202c" stroke-width="0.2">IDH1mut (positively correlated)</text>
<text x="472.50" y="312.40" font-size="5.1" font-weight="bold" text-anchor="end" fill="#3030c8" stroke="#3030c8" stroke-width="0.2">IDH1wt (negatively correlated)</text>
<text x="398.00" y="292.00" font-size="3.4" text-anchor="middle" fill="#444">Zero cross at 16723</text>
<polygon points="327.5,299.2 327.5,292.5 328.5,294.5 330.0,296.0 333.0,297.2 338.0,297.9 350.0,298.4 380.0,298.8 425.0,299.1 438.0,299.2 455.0,299.6 465.0,300.3 470.0,301.3 472.5,303.0 473.8,306.5 473.8,299.2" fill="#bdbdbd" stroke="#a8a8a8" stroke-width="0.4"/>
<text x="325.00" y="277.70" font-size="5.4" font-weight="bold" text-anchor="end" fill="#222" stroke="#222" stroke-width="0.2">2.0</text>
<text x="325.00" y="283.62" font-size="5.4" font-weight="bold" text-anchor="end" fill="#222" stroke="#222" stroke-width="0.2">1.5</text>
<text x="325.00" y="289.54" font-size="5.4" font-weight="bold" text-anchor="end" fill="#222" stroke="#222" stroke-width="0.2">1.0</text>
<text x="325.00" y="295.46" font-size="5.4" font-weight="bold" text-anchor="end" fill="#222" stroke="#222" stroke-width="0.2">0.5</text>
<text x="325.00" y="301.38" font-size="5.4" font-weight="bold" text-anchor="end" fill="#222" stroke="#222" stroke-width="0.2">0.0</text>
<text x="325.00" y="307.30" font-size="5.4" font-weight="bold" text-anchor="end" fill="#222" stroke="#222" stroke-width="0.2">-0.5</text>
<text x="325.00" y="313.22" font-size="5.4" font-weight="bold" text-anchor="end" fill="#222" stroke="#222" stroke-width="0.2">-1.0</text>
<text x="326.80" y="320.80" font-size="5.4" font-weight="bold" text-anchor="middle" fill="#222" stroke="#222" stroke-width="0.2">0</text>
<text x="343.70" y="320.80" font-size="5.4" font-weight="bold" text-anchor="middle" fill="#222" stroke="#222" stroke-width="0.2">2500</text>
<text x="360.60" y="320.80" font-size="5.4" font-weight="bold" text-anchor="middle" fill="#222" stroke="#222" stroke-width="0.2">5000</text>
<text x="377.50" y="320.80" font-size="5.4" font-weight="bold" text-anchor="middle" fill="#222" stroke="#222" stroke-width="0.2">7500</text>
<text x="394.40" y="320.80" font-size="5.4" font-weight="bold" text-anchor="middle" fill="#222" stroke="#222" stroke-width="0.2">10000</text>
<text x="411.30" y="320.80" font-size="5.4" font-weight="bold" text-anchor="middle" fill="#222" stroke="#222" stroke-width="0.2">12500</text>
<text x="428.20" y="320.80" font-size="5.4" font-weight="bold" text-anchor="middle" fill="#222" stroke="#222" stroke-width="0.2">15000</text>
<text x="445.10" y="320.80" font-size="5.4" font-weight="bold" text-anchor="middle" fill="#222" stroke="#222" stroke-width="0.2">17500</text>
<text x="462.00" y="320.80" font-size="5.4" font-weight="bold" text-anchor="middle" fill="#222" stroke="#222" stroke-width="0.2">20000</text>
<text x="478.90" y="320.80" font-size="5.4" font-weight="bold" text-anchor="middle" fill="#222" stroke="#222" stroke-width="0.2">22500</text>
<text x="395.30" y="330.30" font-size="8.35" font-weight="bold" text-anchor="middle" fill="#111" stroke="#111" stroke-width="0.22">Rank in ordered dataset</text>
<text transform="translate(301.20 213.20) rotate(-90)" font-size="8.3" font-weight="bold" text-anchor="middle" fill="#111" stroke="#111" stroke-width="0.22">Enrichment</text>
<text transform="translate(310.90 213.20) rotate(-90)" font-size="8.3" font-weight="bold" text-anchor="middle" fill="#111" stroke="#111" stroke-width="0.22">Score (ES)</text>
<text transform="translate(301.20 288.70) rotate(-90)" font-size="8.3" font-weight="bold" text-anchor="middle" fill="#111" stroke="#111" stroke-width="0.22">Ranked list metric</text>
<text transform="translate(310.90 288.70) rotate(-90)" font-size="8.3" font-weight="bold" text-anchor="middle" fill="#111" stroke="#111" stroke-width="0.22">(Signal to Noise)</text>
<path d="M288 340.7h7.8" stroke="#22cc33" stroke-width="1.2"/>
<text x="296.40" y="343.50" font-size="8.2" font-weight="bold" fill="#111" stroke="#111" stroke-width="0.22">Enrichment profile</text>
<path d="M372.9 340.7h8" stroke="#222" stroke-width="1.1"/>
<text x="381.30" y="343.50" font-size="8.2" font-weight="bold" fill="#111" stroke="#111" stroke-width="0.22">Hits</text>
<path d="M399.5 340.7h8" stroke="#999" stroke-width="1"/>
<text x="408.30" y="343.50" font-size="8.3" font-weight="bold" fill="#111" stroke="#111" stroke-width="0.22">Ranking metric scores</text>
<text x="0.60" y="363.60" font-size="13.0" font-weight="bold" fill="#000">D</text>
<path d="M28.3 382.2V591.0" stroke="#000" stroke-width="2.6" fill="none"/><path d="M28.3 361.2L22.3 383.2L28.3 383.2L34.3 383.2Z" fill="#000"/>
<path d="M27.0 589.7H329.8" stroke="#000" stroke-width="2.6" fill="none"/><path d="M350.8 589.7L328.8 583.6L328.8 589.7L328.8 595.8000000000001Z" fill="#000"/>
<text transform="translate(18.00 477.00) rotate(-90)" font-size="10.4" font-weight="bold" text-anchor="middle" fill="#111" stroke="#111" stroke-width="0.22">Cell viability relative to untreated cells (%)</text>
<text x="180.30" y="601.00" font-size="10.4" font-weight="bold" text-anchor="middle" fill="#111" stroke="#111" stroke-width="0.22">Drug concentration nM (log<tspan font-size="6.45" dy="0.42">10</tspan><tspan dy="-0.42">)</tspan></text>
<text x="46.20" y="431.40" font-size="5.9" font-weight="bold" text-anchor="end" fill="#111" stroke="#111" stroke-width="0.2">0</text>
<text x="46.20" y="422.38" font-size="5.9" font-weight="bold" text-anchor="end" fill="#111" stroke="#111" stroke-width="0.2">20</text>
<text x="46.20" y="413.37" font-size="5.9" font-weight="bold" text-anchor="end" fill="#111" stroke="#111" stroke-width="0.2">40</text>
<text x="46.20" y="404.35" font-size="5.9" font-weight="bold" text-anchor="end" fill="#111" stroke="#111" stroke-width="0.2">60</text>
<text x="46.20" y="395.33" font-size="5.9" font-weight="bold" text-anchor="end" fill="#111" stroke="#111" stroke-width="0.2">80</text>
<text x="46.20" y="386.32" font-size="5.9" font-weight="bold" text-anchor="end" fill="#111" stroke="#111" stroke-width="0.2">100</text>
<text x="46.20" y="377.30" font-size="5.9" font-weight="bold" text-anchor="end" fill="#111" stroke="#111" stroke-width="0.2">120</text>
<text x="49.00" y="436.90" font-size="5.9" font-weight="bold" text-anchor="middle" fill="#111" stroke="#111" stroke-width="0.2">2.5</text>
<text x="75.33" y="436.90" font-size="5.9" font-weight="bold" text-anchor="middle" fill="#111" stroke="#111" stroke-width="0.2">3.5</text>
<text x="101.67" y="436.90" font-size="5.9" font-weight="bold" text-anchor="middle" fill="#111" stroke="#111" stroke-width="0.2">4.5</text>
<text x="128.00" y="436.90" font-size="5.9" font-weight="bold" text-anchor="middle" fill="#111" stroke="#111" stroke-width="0.2">5.5</text>
<path d="M49.00 375.20V429.30H128.00M49.00 429.30h-2M49.00 420.28h-2M49.00 411.27h-2M49.00 402.25h-2M49.00 393.23h-2M49.00 384.22h-2M49.00 375.20h-2M49.00 429.30v2M75.33 429.30v2M101.67 429.30v2M128.00 429.30v2" fill="none" stroke="#111" stroke-width="1"/>
<polyline points="49.00,385.57 62.17,386.02 75.33,395.04 83.23,396.84 91.13,400.00 96.40,403.60 101.67,408.11 106.93,410.82 109.57,418.03 114.83,420.28 128.00,420.28" fill="none" stroke="#111" stroke-width="1.45" stroke-linejoin="round" stroke-dasharray="3.2 2"/>
<path d="M49.00 384.17v2.80M48.00 384.17h2M48.00 386.97h2M62.17 384.62v2.80M61.17 384.62h2M61.17 387.42h2M75.33 393.64v2.80M74.33 393.64h2M74.33 396.44h2M83.23 395.44v2.80M82.23 395.44h2M82.23 398.24h2M91.13 398.60v2.80M90.13 398.60h2M90.13 401.40h2M96.40 402.20v2.80M95.40 402.20h2M95.40 405.00h2M101.67 406.71v2.80M100.67 406.71h2M100.67 409.51h2M106.93 409.42v2.80M105.93 409.42h2M105.93 412.22h2M109.57 416.63v2.80M108.57 416.63h2M108.57 419.43h2M114.83 418.88v2.80M113.83 418.88h2M113.83 421.68h2M128.00 418.88v2.80M127.00 418.88h2M127.00 421.68h2" stroke="#111" stroke-width="0.8" fill="none"/>
<polyline points="49.00,385.57 62.17,386.47 75.33,395.04 83.23,396.39 91.13,399.55 96.40,403.15 101.67,407.66 106.93,410.37 109.57,416.68 114.83,418.03 128.00,419.38" fill="none" stroke="#777" stroke-width="1.15" stroke-linejoin="round"/>
<path d="M49.00 383.97v3.20M48.00 383.97h2M48.00 387.17h2M62.17 384.87v3.20M61.17 384.87h2M61.17 388.07h2M75.33 393.44v3.20M74.33 393.44h2M74.33 396.64h2M83.23 394.79v3.20M82.23 394.79h2M82.23 397.99h2M91.13 397.94v3.20M90.13 397.94h2M90.13 401.15h2M96.40 401.55v3.20M95.40 401.55h2M95.40 404.75h2M101.67 406.06v3.20M100.67 406.06h2M100.67 409.26h2M106.93 408.76v3.20M105.93 408.76h2M105.93 411.97h2M109.57 415.08v3.20M108.57 415.08h2M108.57 418.28h2M114.83 416.43v3.20M113.83 416.43h2M113.83 419.63h2M128.00 417.78v3.20M127.00 417.78h2M127.00 420.98h2" stroke="#777" stroke-width="0.8" fill="none"/>
<polyline points="49.00,385.57 62.17,385.57 75.33,386.02 83.23,386.02 91.13,388.27 96.40,388.73 101.67,391.43 106.93,394.13 109.57,395.49 114.83,414.87 128.00,418.93" fill="none" stroke="#e8151f" stroke-width="1.3499999999999999" stroke-linejoin="round"/>
<path d="M49.00 383.77v3.60M48.00 383.77h2M48.00 387.37h2M62.17 383.77v3.60M61.17 383.77h2M61.17 387.37h2M75.33 384.22v3.60M74.33 384.22h2M74.33 387.82h2M83.23 384.22v3.60M82.23 384.22h2M82.23 387.82h2M91.13 386.47v3.60M90.13 386.47h2M90.13 390.07h2M96.40 386.93v3.60M95.40 386.93h2M95.40 390.53h2M101.67 389.63v3.60M100.67 389.63h2M100.67 393.23h2M106.93 392.33v3.60M105.93 392.33h2M105.93 395.94h2M109.57 393.69v3.60M108.57 393.69h2M108.57 397.29h2M114.83 413.07v3.60M113.83 413.07h2M113.83 416.67h2M128.00 417.13v3.60M127.00 417.13h2M127.00 420.73h2" stroke="#e8151f" stroke-width="0.8" fill="none"/>
<text x="91.13" y="386.17" font-size="5.5" font-weight="bold" text-anchor="middle" fill="#111" stroke="#111" stroke-width="0.2">*</text>
<text x="96.40" y="386.62" font-size="5.5" font-weight="bold" text-anchor="middle" fill="#111" stroke="#111" stroke-width="0.2">*</text>
<text x="101.67" y="387.07" font-size="5.5" font-weight="bold" text-anchor="middle" fill="#111" stroke="#111" stroke-width="0.2">*</text>
<text x="107.46" y="390.68" font-size="5.5" font-weight="bold" text-anchor="middle" fill="#111" stroke="#111" stroke-width="0.2">*</text>
<text x="110.88" y="392.93" font-size="5.5" font-weight="bold" text-anchor="middle" fill="#111" stroke="#111" stroke-width="0.2">*</text>
<text x="84.00" y="377.00" font-size="6.2" font-weight="bold" text-anchor="middle" fill="#111" stroke="#111" stroke-width="0.12">U0126 (MEK1/2)</text>
<text x="148.70" y="431.40" font-size="5.9" font-weight="bold" text-anchor="end" fill="#111" stroke="#111" stroke-width="0.2">0</text>
<text x="148.70" y="422.38" font-size="5.9" font-weight="bold" text-anchor="end" fill="#111" stroke="#111" stroke-width="0.2">20</text>
<text x="148.70" y="413.37" font-size="5.9" font-weight="bold" text-anchor="end" fill="#111" stroke="#111" stroke-width="0.2">40</text>
<text x="148.70" y="404.35" font-size="5.9" font-weight="bold" text-anchor="end" fill="#111" stroke="#111" stroke-width="0.2">60</text>
<text x="148.70" y="395.33" font-size="5.9" font-weight="bold" text-anchor="end" fill="#111" stroke="#111" stroke-width="0.2">80</text>
<text x="148.70" y="386.32" font-size="5.9" font-weight="bold" text-anchor="end" fill="#111" stroke="#111" stroke-width="0.2">100</text>
<text x="148.70" y="377.30" font-size="5.9" font-weight="bold" text-anchor="end" fill="#111" stroke="#111" stroke-width="0.2">120</text>
<text x="151.50" y="436.90" font-size="5.9" font-weight="bold" text-anchor="middle" fill="#111" stroke="#111" stroke-width="0.2">3.0</text>
<text x="178.27" y="436.90" font-size="5.9" font-weight="bold" text-anchor="middle" fill="#111" stroke="#111" stroke-width="0.2">4.0</text>
<text x="205.03" y="436.90" font-size="5.9" font-weight="bold" text-anchor="middle" fill="#111" stroke="#111" stroke-width="0.2">5.0</text>
<text x="231.80" y="436.90" font-size="5.9" font-weight="bold" text-anchor="middle" fill="#111" stroke="#111" stroke-width="0.2">6.0</text>
<path d="M151.50 375.20V429.30H231.80M151.50 429.30h-2M151.50 420.28h-2M151.50 411.27h-2M151.50 402.25h-2M151.50 393.23h-2M151.50 384.22h-2M151.50 375.20h-2M151.50 429.30v2M178.27 429.30v2M205.03 429.30v2M231.80 429.30v2" fill="none" stroke="#111" stroke-width="1"/>
<polyline points="151.50,391.88 170.24,392.33 178.27,394.13 197.00,396.84 205.03,410.37 223.77,412.17 231.80,413.97" fill="none" stroke="#111" stroke-width="1.45" stroke-linejoin="round" stroke-dasharray="3.2 2"/>
<path d="M151.50 390.48v2.80M150.50 390.48h2M150.50 393.28h2M170.24 390.93v2.80M169.24 390.93h2M169.24 393.73h2M178.27 392.74v2.80M177.27 392.74h2M177.27 395.53h2M197.00 395.44v2.80M196.00 395.44h2M196.00 398.24h2M205.03 408.97v2.80M204.03 408.97h2M204.03 411.76h2M223.77 410.77v2.80M222.77 410.77h2M222.77 413.57h2M231.80 412.57v2.80M230.80 412.57h2M230.80 415.37h2" stroke="#111" stroke-width="0.8" fill="none"/>
<polyline points="151.50,388.27 170.24,389.18 178.27,390.08 197.00,397.29 205.03,410.82 223.77,412.62 231.80,414.42" fill="none" stroke="#777" stroke-width="1.15" stroke-linejoin="round"/>
<path d="M151.50 386.67v3.20M150.50 386.67h2M150.50 389.87h2M170.24 387.58v3.20M169.24 387.58h2M169.24 390.78h2M178.27 388.48v3.20M177.27 388.48h2M177.27 391.68h2M197.00 395.69v3.20M196.00 395.69h2M196.00 398.89h2M205.03 409.22v3.20M204.03 409.22h2M204.03 412.42h2M223.77 411.02v3.20M222.77 411.02h2M222.77 414.22h2M231.80 412.82v3.20M230.80 412.82h2M230.80 416.02h2" stroke="#777" stroke-width="0.8" fill="none"/>
<polyline points="151.50,387.82 170.24,388.73 178.27,389.63 197.00,396.84 205.03,410.37 223.77,412.17 231.80,413.97" fill="none" stroke="#e8151f" stroke-width="1.3499999999999999" stroke-linejoin="round"/>
<path d="M151.50 386.02v3.60M150.50 386.02h2M150.50 389.62h2M170.24 386.93v3.60M169.24 386.93h2M169.24 390.53h2M178.27 387.83v3.60M177.27 387.83h2M177.27 391.43h2M197.00 395.04v3.60M196.00 395.04h2M196.00 398.64h2M205.03 408.56v3.60M204.03 408.56h2M204.03 412.17h2M223.77 410.37v3.60M222.77 410.37h2M222.77 413.97h2M231.80 412.17v3.60M230.80 412.17h2M230.80 415.77h2" stroke="#e8151f" stroke-width="0.8" fill="none"/>
<text x="186.40" y="377.00" font-size="6.2" font-weight="bold" text-anchor="middle" fill="#111" stroke="#111" stroke-width="0.12">BIRB-796 (p38)</text>
<text x="252.40" y="432.60" font-size="5.9" font-weight="bold" text-anchor="end" fill="#111" stroke="#111" stroke-width="0.2">0</text>
<text x="252.40" y="423.68" font-size="5.9" font-weight="bold" text-anchor="end" fill="#111" stroke="#111" stroke-width="0.2">20</text>
<text x="252.40" y="414.77" font-size="5.9" font-weight="bold" text-anchor="end" fill="#111" stroke="#111" stroke-width="0.2">40</text>
<text x="252.40" y="405.85" font-size="5.9" font-weight="bold" text-anchor="end" fill="#111" stroke="#111" stroke-width="0.2">60</text>
<text x="252.40" y="396.93" font-size="5.9" font-weight="bold" text-anchor="end" fill="#111" stroke="#111" stroke-width="0.2">80</text>
<text x="252.40" y="388.02" font-size="5.9" font-weight="bold" text-anchor="end" fill="#111" stroke="#111" stroke-width="0.2">100</text>
<text x="252.40" y="379.10" font-size="5.9" font-weight="bold" text-anchor="end" fill="#111" stroke="#111" stroke-width="0.2">120</text>
<text x="255.20" y="438.10" font-size="5.9" font-weight="bold" text-anchor="middle" fill="#111" stroke="#111" stroke-width="0.2">2.5</text>
<text x="282.00" y="438.10" font-size="5.9" font-weight="bold" text-anchor="middle" fill="#111" stroke="#111" stroke-width="0.2">3.5</text>
<text x="308.80" y="438.10" font-size="5.9" font-weight="bold" text-anchor="middle" fill="#111" stroke="#111" stroke-width="0.2">4.5</text>
<text x="335.60" y="438.10" font-size="5.9" font-weight="bold" text-anchor="middle" fill="#111" stroke="#111" stroke-width="0.2">5.5</text>
<path d="M255.20 377.00V430.50H335.60M255.20 430.50h-2M255.20 421.58h-2M255.20 412.67h-2M255.20 403.75h-2M255.20 394.83h-2M255.20 385.92h-2M255.20 377.00h-2M255.20 430.50v2M282.00 430.50v2M308.80 430.50v2M335.60 430.50v2" fill="none" stroke="#111" stroke-width="1"/>
<polyline points="260.56,386.81 268.60,385.92 287.36,387.70 295.40,399.29 314.16,429.61 322.20,429.61" fill="none" stroke="#111" stroke-width="1.45" stroke-linejoin="round" stroke-dasharray="3.2 2"/>
<path d="M260.56 385.41v2.80M259.56 385.41h2M259.56 388.21h2M268.60 384.52v2.80M267.60 384.52h2M267.60 387.32h2M287.36 386.30v2.80M286.36 386.30h2M286.36 389.10h2M295.40 397.89v2.80M294.40 397.89h2M294.40 400.69h2M314.16 428.21v2.80M313.16 428.21h2M313.16 431.01h2M322.20 428.21v2.80M321.20 428.21h2M321.20 431.01h2" stroke="#111" stroke-width="0.8" fill="none"/>
<polyline points="260.56,388.15 268.60,385.92 287.36,392.60 295.40,404.64 314.16,429.61 322.20,429.61" fill="none" stroke="#777" stroke-width="1.15" stroke-linejoin="round"/>
<path d="M260.56 386.55v3.20M259.56 386.55h2M259.56 389.75h2M268.60 384.32v3.20M267.60 384.32h2M267.60 387.52h2M287.36 391.00v3.20M286.36 391.00h2M286.36 394.20h2M295.40 403.04v3.20M294.40 403.04h2M294.40 406.24h2M314.16 428.01v3.20M313.16 428.01h2M313.16 431.21h2M322.20 428.01v3.20M321.20 428.01h2M321.20 431.21h2" stroke="#777" stroke-width="0.8" fill="none"/>
<polyline points="260.56,389.04 268.60,385.92 287.36,393.94 295.40,405.98 314.16,429.61 322.20,429.61" fill="none" stroke="#e8151f" stroke-width="1.3499999999999999" stroke-linejoin="round"/>
<path d="M260.56 387.24v3.60M259.56 387.24h2M259.56 390.84h2M268.60 384.12v3.60M267.60 384.12h2M267.60 387.72h2M287.36 392.14v3.60M286.36 392.14h2M286.36 395.74h2M295.40 404.18v3.60M294.40 404.18h2M294.40 407.78h2M314.16 427.81v3.60M313.16 427.81h2M313.16 431.41h2M322.20 427.81v3.60M321.20 427.81h2M321.20 431.41h2" stroke="#e8151f" stroke-width="0.8" fill="none"/>
<text x="291.50" y="376.30" font-size="6.2" font-weight="bold" text-anchor="middle" fill="#111" stroke="#111" stroke-width="0.12">SP600125 (JNK)</text>
<text x="46.70" y="500.10" font-size="5.9" font-weight="bold" text-anchor="end" fill="#111" stroke="#111" stroke-width="0.2">0</text>
<text x="46.70" y="491.18" font-size="5.9" font-weight="bold" text-anchor="end" fill="#111" stroke="#111" stroke-width="0.2">20</text>
<text x="46.70" y="482.27" font-size="5.9" font-weight="bold" text-anchor="end" fill="#111" stroke="#111" stroke-width="0.2">40</text>
<text x="46.70" y="473.35" font-size="5.9" font-weight="bold" text-anchor="end" fill="#111" stroke="#111" stroke-width="0.2">60</text>
<text x="46.70" y="464.43" font-size="5.9" font-weight="bold" text-anchor="end" fill="#111" stroke="#111" stroke-width="0.2">80</text>
<text x="46.70" y="455.52" font-size="5.9" font-weight="bold" text-anchor="end" fill="#111" stroke="#111" stroke-width="0.2">100</text>
<text x="46.70" y="446.60" font-size="5.9" font-weight="bold" text-anchor="end" fill="#111" stroke="#111" stroke-width="0.2">120</text>
<text x="49.50" y="505.60" font-size="5.9" font-weight="bold" text-anchor="middle" fill="#111" stroke="#111" stroke-width="0.2">1.5</text>
<text x="75.77" y="505.60" font-size="5.9" font-weight="bold" text-anchor="middle" fill="#111" stroke="#111" stroke-width="0.2">2.0</text>
<text x="102.03" y="505.60" font-size="5.9" font-weight="bold" text-anchor="middle" fill="#111" stroke="#111" stroke-width="0.2">2.5</text>
<text x="128.30" y="505.60" font-size="5.9" font-weight="bold" text-anchor="middle" fill="#111" stroke="#111" stroke-width="0.2">3.0</text>
<path d="M49.50 444.50V498.00H128.30M49.50 498.00h-2M49.50 489.08h-2M49.50 480.17h-2M49.50 471.25h-2M49.50 462.33h-2M49.50 453.42h-2M49.50 444.50h-2M49.50 498.00v2M75.77 498.00v2M102.03 498.00v2M128.30 498.00v2" fill="none" stroke="#111" stroke-width="1"/>
<polyline points="67.89,453.42 91.53,455.65 107.29,486.85 117.79,495.77" fill="none" stroke="#111" stroke-width="1.45" stroke-linejoin="round" stroke-dasharray="3.2 2"/>
<path d="M67.89 452.02v2.80M66.89 452.02h2M66.89 454.82h2M91.53 454.25v2.80M90.53 454.25h2M90.53 457.05h2M107.29 485.45v2.80M106.29 485.45h2M106.29 488.25h2M117.79 494.37v2.80M116.79 494.37h2M116.79 497.17h2" stroke="#111" stroke-width="0.8" fill="none"/>
<polyline points="67.89,453.42 75.77,454.75 91.53,455.20 107.29,479.27 117.79,494.88" fill="none" stroke="#777" stroke-width="1.15" stroke-linejoin="round"/>
<path d="M67.89 451.82v3.20M66.89 451.82h2M66.89 455.02h2M75.77 453.15v3.20M74.77 453.15h2M74.77 456.35h2M91.53 453.60v3.20M90.53 453.60h2M90.53 456.80h2M107.29 477.67v3.20M106.29 477.67h2M106.29 480.88h2M117.79 493.28v3.20M116.79 493.28h2M116.79 496.48h2" stroke="#777" stroke-width="0.8" fill="none"/>
<polyline points="67.89,455.20 70.51,455.65 73.14,456.09 75.77,456.54 91.53,456.54 107.29,480.17 117.79,495.77" fill="none" stroke="#e8151f" stroke-width="1.3499999999999999" stroke-linejoin="round"/>
<path d="M67.89 453.40v3.60M66.89 453.40h2M66.89 457.00h2M70.51 453.85v3.60M69.51 453.85h2M69.51 457.45h2M73.14 454.29v3.60M72.14 454.29h2M72.14 457.89h2M75.77 454.74v3.60M74.77 454.74h2M74.77 458.34h2M91.53 454.74v3.60M90.53 454.74h2M90.53 458.34h2M107.29 478.37v3.60M106.29 478.37h2M106.29 481.97h2M117.79 493.97v3.60M116.79 493.97h2M116.79 497.57h2" stroke="#e8151f" stroke-width="0.8" fill="none"/>
<text x="86.00" y="447.00" font-size="6.2" font-weight="bold" text-anchor="middle" fill="#111" stroke="#111" stroke-width="0.12">PDTC (NFkB)</text>
<text x="148.70" y="500.50" font-size="5.9" font-weight="bold" text-anchor="end" fill="#111" stroke="#111" stroke-width="0.2">0</text>
<text x="148.70" y="491.77" font-size="5.9" font-weight="bold" text-anchor="end" fill="#111" stroke="#111" stroke-width="0.2">20</text>
<text x="148.70" y="483.03" font-size="5.9" font-weight="bold" text-anchor="end" fill="#111" stroke="#111" stroke-width="0.2">40</text>
<text x="148.70" y="474.30" font-size="5.9" font-weight="bold" text-anchor="end" fill="#111" stroke="#111" stroke-width="0.2">60</text>
<text x="148.70" y="465.57" font-size="5.9" font-weight="bold" text-anchor="end" fill="#111" stroke="#111" stroke-width="0.2">80</text>
<text x="148.70" y="456.83" font-size="5.9" font-weight="bold" text-anchor="end" fill="#111" stroke="#111" stroke-width="0.2">100</text>
<text x="148.70" y="448.10" font-size="5.9" font-weight="bold" text-anchor="end" fill="#111" stroke="#111" stroke-width="0.2">120</text>
<text x="151.50" y="506.00" font-size="5.9" font-weight="bold" text-anchor="middle" fill="#111" stroke="#111" stroke-width="0.2">2.5</text>
<text x="178.57" y="506.00" font-size="5.9" font-weight="bold" text-anchor="middle" fill="#111" stroke="#111" stroke-width="0.2">3.5</text>
<text x="205.63" y="506.00" font-size="5.9" font-weight="bold" text-anchor="middle" fill="#111" stroke="#111" stroke-width="0.2">4.5</text>
<text x="232.70" y="506.00" font-size="5.9" font-weight="bold" text-anchor="middle" fill="#111" stroke="#111" stroke-width="0.2">5.5</text>
<path d="M151.50 446.00V498.40H232.70M151.50 498.40h-2M151.50 489.67h-2M151.50 480.93h-2M151.50 472.20h-2M151.50 463.47h-2M151.50 454.73h-2M151.50 446.00h-2M151.50 498.40v2M178.57 498.40v2M205.63 498.40v2M232.70 498.40v2" fill="none" stroke="#111" stroke-width="1"/>
<polyline points="156.91,456.92 165.03,457.79 192.10,457.79 200.22,463.47 211.05,481.81" fill="none" stroke="#111" stroke-width="1.45" stroke-linejoin="round" stroke-dasharray="3.2 2"/>
<path d="M156.91 455.52v2.80M155.91 455.52h2M155.91 458.32h2M165.03 456.39v2.80M164.03 456.39h2M164.03 459.19h2M192.10 456.39v2.80M191.10 456.39h2M191.10 459.19h2M200.22 462.07v2.80M199.22 462.07h2M199.22 464.87h2M211.05 480.41v2.80M210.05 480.41h2M210.05 483.21h2" stroke="#111" stroke-width="0.8" fill="none"/>
<polyline points="156.91,455.17 165.03,455.61 170.45,457.79 192.10,464.78 200.22,471.33 211.05,480.93" fill="none" stroke="#777" stroke-width="1.15" stroke-linejoin="round"/>
<path d="M156.91 453.57v3.20M155.91 453.57h2M155.91 456.77h2M165.03 454.01v3.20M164.03 454.01h2M164.03 457.21h2M170.45 456.19v3.20M169.45 456.19h2M169.45 459.39h2M192.10 463.18v3.20M191.10 463.18h2M191.10 466.38h2M200.22 469.73v3.20M199.22 469.73h2M199.22 472.93h2M211.05 479.33v3.20M210.05 479.33h2M210.05 482.53h2" stroke="#777" stroke-width="0.8" fill="none"/>
<polyline points="156.91,456.92 165.03,457.79 192.10,465.65 200.22,472.20 211.05,483.12" fill="none" stroke="#e8151f" stroke-width="1.3499999999999999" stroke-linejoin="round"/>
<path d="M156.91 455.12v3.60M155.91 455.12h2M155.91 458.72h2M165.03 455.99v3.60M164.03 455.99h2M164.03 459.59h2M192.10 463.85v3.60M191.10 463.85h2M191.10 467.45h2M200.22 470.40v3.60M199.22 470.40h2M199.22 474.00h2M211.05 481.32v3.60M210.05 481.32h2M210.05 484.92h2" stroke="#e8151f" stroke-width="0.8" fill="none"/>
<text x="184.70" y="451.30" font-size="6.2" font-weight="bold" text-anchor="middle" fill="#111" stroke="#111" stroke-width="0.12">Wortmannin (PI3K)</text>
<text x="253.10" y="500.10" font-size="5.9" font-weight="bold" text-anchor="end" fill="#111" stroke="#111" stroke-width="0.2">0</text>
<text x="253.10" y="491.37" font-size="5.9" font-weight="bold" text-anchor="end" fill="#111" stroke="#111" stroke-width="0.2">20</text>
<text x="253.10" y="482.63" font-size="5.9" font-weight="bold" text-anchor="end" fill="#111" stroke="#111" stroke-width="0.2">40</text>
<text x="253.10" y="473.90" font-size="5.9" font-weight="bold" text-anchor="end" fill="#111" stroke="#111" stroke-width="0.2">60</text>
<text x="253.10" y="465.17" font-size="5.9" font-weight="bold" text-anchor="end" fill="#111" stroke="#111" stroke-width="0.2">80</text>
<text x="253.10" y="456.43" font-size="5.9" font-weight="bold" text-anchor="end" fill="#111" stroke="#111" stroke-width="0.2">100</text>
<text x="253.10" y="447.70" font-size="5.9" font-weight="bold" text-anchor="end" fill="#111" stroke="#111" stroke-width="0.2">120</text>
<text x="255.90" y="505.60" font-size="5.9" font-weight="bold" text-anchor="middle" fill="#111" stroke="#111" stroke-width="0.2">-0.5</text>
<text x="282.47" y="505.60" font-size="5.9" font-weight="bold" text-anchor="middle" fill="#111" stroke="#111" stroke-width="0.2">0.5</text>
<text x="309.03" y="505.60" font-size="5.9" font-weight="bold" text-anchor="middle" fill="#111" stroke="#111" stroke-width="0.2">1.5</text>
<text x="335.60" y="505.60" font-size="5.9" font-weight="bold" text-anchor="middle" fill="#111" stroke="#111" stroke-width="0.2">2.5</text>
<path d="M255.90 445.60V498.00H335.60M255.90 498.00h-2M255.90 489.27h-2M255.90 480.53h-2M255.90 471.80h-2M255.90 463.07h-2M255.90 454.33h-2M255.90 445.60h-2M255.90 498.00v2M282.47 498.00v2M309.03 498.00v2M335.60 498.00v2" fill="none" stroke="#111" stroke-width="1"/>
<polyline points="261.21,456.08 269.18,456.08 287.78,468.31 295.75,473.98 314.35,478.35 322.32,479.66" fill="none" stroke="#111" stroke-width="1.45" stroke-linejoin="round" stroke-dasharray="3.2 2"/>
<path d="M261.21 454.68v2.80M260.21 454.68h2M260.21 457.48h2M269.18 454.68v2.80M268.18 454.68h2M268.18 457.48h2M287.78 466.91v2.80M286.78 466.91h2M286.78 469.71h2M295.75 472.58v2.80M294.75 472.58h2M294.75 475.38h2M314.35 476.95v2.80M313.35 476.95h2M313.35 479.75h2M322.32 478.26v2.80M321.32 478.26h2M321.32 481.06h2" stroke="#111" stroke-width="0.8" fill="none"/>
<polyline points="261.21,461.32 269.18,457.83 287.78,473.11 295.75,478.79 314.35,481.41 322.32,482.72" fill="none" stroke="#777" stroke-width="1.15" stroke-linejoin="round"/>
<path d="M261.21 459.72v3.20M260.21 459.72h2M260.21 462.92h2M269.18 456.23v3.20M268.18 456.23h2M268.18 459.43h2M287.78 471.51v3.20M286.78 471.51h2M286.78 474.71h2M295.75 477.19v3.20M294.75 477.19h2M294.75 480.39h2M314.35 479.81v3.20M313.35 479.81h2M313.35 483.01h2M322.32 481.12v3.20M321.32 481.12h2M321.32 484.32h2" stroke="#777" stroke-width="0.8" fill="none"/>
<polyline points="261.21,456.08 269.18,457.83 287.78,470.49 295.75,474.86 314.35,481.41 322.32,482.28" fill="none" stroke="#e8151f" stroke-width="1.3499999999999999" stroke-linejoin="round"/>
<path d="M261.21 454.28v3.60M260.21 454.28h2M260.21 457.88h2M269.18 456.03v3.60M268.18 456.03h2M268.18 459.63h2M287.78 468.69v3.60M286.78 468.69h2M286.78 472.29h2M295.75 473.06v3.60M294.75 473.06h2M294.75 476.66h2M314.35 479.61v3.60M313.35 479.61h2M313.35 483.21h2M322.32 480.48v3.60M321.32 480.48h2M321.32 484.08h2" stroke="#e8151f" stroke-width="0.8" fill="none"/>
<text x="297.00" y="450.60" font-size="6.2" font-weight="bold" text-anchor="middle" fill="#111" stroke="#111" stroke-width="0.12">Rapamycin (FRAP/mTOR)</text>
<text x="47.20" y="575.10" font-size="5.9" font-weight="bold" text-anchor="end" fill="#111" stroke="#111" stroke-width="0.2">0</text>
<text x="47.20" y="566.52" font-size="5.9" font-weight="bold" text-anchor="end" fill="#111" stroke="#111" stroke-width="0.2">20</text>
<text x="47.20" y="557.93" font-size="5.9" font-weight="bold" text-anchor="end" fill="#111" stroke="#111" stroke-width="0.2">40</text>
<text x="47.20" y="549.35" font-size="5.9" font-weight="bold" text-anchor="end" fill="#111" stroke="#111" stroke-width="0.2">60</text>
<text x="47.20" y="540.77" font-size="5.9" font-weight="bold" text-anchor="end" fill="#111" stroke="#111" stroke-width="0.2">80</text>
<text x="47.20" y="532.18" font-size="5.9" font-weight="bold" text-anchor="end" fill="#111" stroke="#111" stroke-width="0.2">100</text>
<text x="47.20" y="523.60" font-size="5.9" font-weight="bold" text-anchor="end" fill="#111" stroke="#111" stroke-width="0.2">120</text>
<text x="50.00" y="580.60" font-size="5.9" font-weight="bold" text-anchor="middle" fill="#111" stroke="#111" stroke-width="0.2">1.5</text>
<text x="74.33" y="580.60" font-size="5.9" font-weight="bold" text-anchor="middle" fill="#111" stroke="#111" stroke-width="0.2">2.5</text>
<text x="98.67" y="580.60" font-size="5.9" font-weight="bold" text-anchor="middle" fill="#111" stroke="#111" stroke-width="0.2">3.5</text>
<text x="123.00" y="580.60" font-size="5.9" font-weight="bold" text-anchor="middle" fill="#111" stroke="#111" stroke-width="0.2">4.5</text>
<path d="M50.00 521.50V573.00H123.00M50.00 573.00h-2M50.00 564.42h-2M50.00 555.83h-2M50.00 547.25h-2M50.00 538.67h-2M50.00 530.08h-2M50.00 521.50h-2M50.00 573.00v2M74.33 573.00v2M98.67 573.00v2M123.00 573.00v2" fill="none" stroke="#111" stroke-width="1"/>
<polyline points="54.87,533.52 62.17,530.94 79.20,532.23 86.50,533.52 103.53,549.40 110.83,568.71" fill="none" stroke="#111" stroke-width="1.45" stroke-linejoin="round" stroke-dasharray="3.2 2"/>
<path d="M54.87 532.12v2.80M53.87 532.12h2M53.87 534.92h2M62.17 529.54v2.80M61.17 529.54h2M61.17 532.34h2M79.20 530.83v2.80M78.20 530.83h2M78.20 533.63h2M86.50 532.12v2.80M85.50 532.12h2M85.50 534.92h2M103.53 548.00v2.80M102.53 548.00h2M102.53 550.80h2M110.83 567.31v2.80M109.83 567.31h2M109.83 570.11h2" stroke="#111" stroke-width="0.8" fill="none"/>
<polyline points="54.87,535.66 62.17,530.08 79.20,530.94 86.50,530.08 103.53,544.25 110.83,558.84" fill="none" stroke="#777" stroke-width="1.15" stroke-linejoin="round"/>
<path d="M54.87 534.06v3.20M53.87 534.06h2M53.87 537.26h2M62.17 528.48v3.20M61.17 528.48h2M61.17 531.68h2M79.20 529.34v3.20M78.20 529.34h2M78.20 532.54h2M86.50 528.48v3.20M85.50 528.48h2M85.50 531.68h2M103.53 542.65v3.20M102.53 542.65h2M102.53 545.85h2M110.83 557.24v3.20M109.83 557.24h2M109.83 560.44h2" stroke="#777" stroke-width="0.8" fill="none"/>
<polyline points="54.87,531.37 62.17,530.94 79.20,532.66 86.50,533.52 103.53,554.98 110.83,568.71" fill="none" stroke="#e8151f" stroke-width="1.3499999999999999" stroke-linejoin="round"/>
<path d="M54.87 529.57v3.60M53.87 529.57h2M53.87 533.17h2M62.17 529.14v3.60M61.17 529.14h2M61.17 532.74h2M79.20 530.86v3.60M78.20 530.86h2M78.20 534.46h2M86.50 531.72v3.60M85.50 531.72h2M85.50 535.32h2M103.53 553.18v3.60M102.53 553.18h2M102.53 556.77h2M110.83 566.91v3.60M109.83 566.91h2M109.83 570.51h2" stroke="#e8151f" stroke-width="0.8" fill="none"/>
<text x="86.70" y="525.50" font-size="6.2" font-weight="bold" text-anchor="middle" fill="#111" stroke="#111" stroke-width="0.12">Gö6893 (PKC)</text>
<text x="148.70" y="575.10" font-size="5.9" font-weight="bold" text-anchor="end" fill="#111" stroke="#111" stroke-width="0.2">0</text>
<text x="148.70" y="566.30" font-size="5.9" font-weight="bold" text-anchor="end" fill="#111" stroke="#111" stroke-width="0.2">20</text>
<text x="148.70" y="557.50" font-size="5.9" font-weight="bold" text-anchor="end" fill="#111" stroke="#111" stroke-width="0.2">40</text>
<text x="148.70" y="548.70" font-size="5.9" font-weight="bold" text-anchor="end" fill="#111" stroke="#111" stroke-width="0.2">60</text>
<text x="148.70" y="539.90" font-size="5.9" font-weight="bold" text-anchor="end" fill="#111" stroke="#111" stroke-width="0.2">80</text>
<text x="148.70" y="531.10" font-size="5.9" font-weight="bold" text-anchor="end" fill="#111" stroke="#111" stroke-width="0.2">100</text>
<text x="148.70" y="522.30" font-size="5.9" font-weight="bold" text-anchor="end" fill="#111" stroke="#111" stroke-width="0.2">120</text>
<text x="151.50" y="580.60" font-size="5.9" font-weight="bold" text-anchor="middle" fill="#111" stroke="#111" stroke-width="0.2">2.5</text>
<text x="171.43" y="580.60" font-size="5.9" font-weight="bold" text-anchor="middle" fill="#111" stroke="#111" stroke-width="0.2">3.0</text>
<text x="191.35" y="580.60" font-size="5.9" font-weight="bold" text-anchor="middle" fill="#111" stroke="#111" stroke-width="0.2">3.5</text>
<text x="211.27" y="580.60" font-size="5.9" font-weight="bold" text-anchor="middle" fill="#111" stroke="#111" stroke-width="0.2">4.0</text>
<text x="231.20" y="580.60" font-size="5.9" font-weight="bold" text-anchor="middle" fill="#111" stroke="#111" stroke-width="0.2">4.5</text>
<path d="M151.50 520.20V573.00H231.20M151.50 573.00h-2M151.50 564.20h-2M151.50 555.40h-2M151.50 546.60h-2M151.50 537.80h-2M151.50 529.00h-2M151.50 520.20h-2M151.50 573.00v2M171.43 573.00v2M191.35 573.00v2M211.27 573.00v2M231.20 573.00v2" fill="none" stroke="#111" stroke-width="1"/>
<polyline points="151.50,535.16 163.45,529.00 175.41,531.20 187.37,536.92 199.32,557.60 211.27,572.12" fill="none" stroke="#111" stroke-width="1.45" stroke-linejoin="round" stroke-dasharray="3.2 2"/>
<path d="M151.50 533.76v2.80M150.50 533.76h2M150.50 536.56h2M163.45 527.60v2.80M162.45 527.60h2M162.45 530.40h2M175.41 529.80v2.80M174.41 529.80h2M174.41 532.60h2M187.37 535.52v2.80M186.37 535.52h2M186.37 538.32h2M199.32 556.20v2.80M198.32 556.20h2M198.32 559.00h2M211.27 570.72v2.80M210.27 570.72h2M210.27 573.52h2" stroke="#111" stroke-width="0.8" fill="none"/>
<polyline points="151.50,531.20 163.45,528.56 175.41,529.00 187.37,532.52 199.32,548.80 211.27,571.68" fill="none" stroke="#777" stroke-width="1.15" stroke-linejoin="round"/>
<path d="M151.50 529.60v3.20M150.50 529.60h2M150.50 532.80h2M163.45 526.96v3.20M162.45 526.96h2M162.45 530.16h2M175.41 527.40v3.20M174.41 527.40h2M174.41 530.60h2M187.37 530.92v3.20M186.37 530.92h2M186.37 534.12h2M199.32 547.20v3.20M198.32 547.20h2M198.32 550.40h2M211.27 570.08v3.20M210.27 570.08h2M210.27 573.28h2" stroke="#777" stroke-width="0.8" fill="none"/>
<polyline points="151.50,534.28 163.45,529.00 175.41,530.76 187.37,535.60 199.32,560.68 211.27,572.12" fill="none" stroke="#e8151f" stroke-width="1.3499999999999999" stroke-linejoin="round"/>
<path d="M151.50 532.48v3.60M150.50 532.48h2M150.50 536.08h2M163.45 527.20v3.60M162.45 527.20h2M162.45 530.80h2M175.41 528.96v3.60M174.41 528.96h2M174.41 532.56h2M187.37 533.80v3.60M186.37 533.80h2M186.37 537.40h2M199.32 558.88v3.60M198.32 558.88h2M198.32 562.48h2M211.27 570.32v3.60M210.27 570.32h2M210.27 573.92h2" stroke="#e8151f" stroke-width="0.8" fill="none"/>
<text x="189.50" y="523.40" font-size="6.2" font-weight="bold" text-anchor="middle" fill="#111" stroke="#111" stroke-width="0.12">Ro31-8220 (PKC)</text>
<text x="252.40" y="575.80" font-size="5.9" font-weight="bold" text-anchor="end" fill="#111" stroke="#111" stroke-width="0.2">0</text>
<text x="252.40" y="566.75" font-size="5.9" font-weight="bold" text-anchor="end" fill="#111" stroke="#111" stroke-width="0.2">20</text>
<text x="252.40" y="557.70" font-size="5.9" font-weight="bold" text-anchor="end" fill="#111" stroke="#111" stroke-width="0.2">40</text>
<text x="252.40" y="548.65" font-size="5.9" font-weight="bold" text-anchor="end" fill="#111" stroke="#111" stroke-width="0.2">60</text>
<text x="252.40" y="539.60" font-size="5.9" font-weight="bold" text-anchor="end" fill="#111" stroke="#111" stroke-width="0.2">80</text>
<text x="252.40" y="530.55" font-size="5.9" font-weight="bold" text-anchor="end" fill="#111" stroke="#111" stroke-width="0.2">100</text>
<text x="252.40" y="521.50" font-size="5.9" font-weight="bold" text-anchor="end" fill="#111" stroke="#111" stroke-width="0.2">120</text>
<text x="255.20" y="581.30" font-size="5.9" font-weight="bold" text-anchor="middle" fill="#111" stroke="#111" stroke-width="0.2">1.5</text>
<text x="275.40" y="581.30" font-size="5.9" font-weight="bold" text-anchor="middle" fill="#111" stroke="#111" stroke-width="0.2">2.0</text>
<text x="295.60" y="581.30" font-size="5.9" font-weight="bold" text-anchor="middle" fill="#111" stroke="#111" stroke-width="0.2">2.5</text>
<text x="315.80" y="581.30" font-size="5.9" font-weight="bold" text-anchor="middle" fill="#111" stroke="#111" stroke-width="0.2">3.0</text>
<text x="336.00" y="581.30" font-size="5.9" font-weight="bold" text-anchor="middle" fill="#111" stroke="#111" stroke-width="0.2">3.5</text>
<path d="M255.20 519.40V573.70H336.00M255.20 573.70h-2M255.20 564.65h-2M255.20 555.60h-2M255.20 546.55h-2M255.20 537.50h-2M255.20 528.45h-2M255.20 519.40h-2M255.20 573.70v2M275.40 573.70v2M295.60 573.70v2M315.80 573.70v2M336.00 573.70v2" fill="none" stroke="#111" stroke-width="1"/>
<polyline points="263.28,530.71 275.40,531.16 287.52,531.16 299.64,559.22 311.76,567.82 315.80,568.72" fill="none" stroke="#111" stroke-width="1.45" stroke-linejoin="round" stroke-dasharray="3.2 2"/>
<path d="M263.28 529.31v2.80M262.28 529.31h2M262.28 532.11h2M275.40 529.76v2.80M274.40 529.76h2M274.40 532.56h2M287.52 529.76v2.80M286.52 529.76h2M286.52 532.56h2M299.64 557.82v2.80M298.64 557.82h2M298.64 560.62h2M311.76 566.42v2.80M310.76 566.42h2M310.76 569.22h2M315.80 567.32v2.80M314.80 567.32h2M314.80 570.12h2" stroke="#111" stroke-width="0.8" fill="none"/>
<polyline points="263.28,532.98 275.40,535.69 287.52,536.60 299.64,559.22 311.76,566.46 315.80,567.37" fill="none" stroke="#777" stroke-width="1.15" stroke-linejoin="round"/>
<path d="M263.28 531.38v3.20M262.28 531.38h2M262.28 534.58h2M275.40 534.09v3.20M274.40 534.09h2M274.40 537.29h2M287.52 535.00v3.20M286.52 535.00h2M286.52 538.20h2M299.64 557.62v3.20M298.64 557.62h2M298.64 560.82h2M311.76 564.86v3.20M310.76 564.86h2M310.76 568.06h2M315.80 565.76v3.20M314.80 565.76h2M314.80 568.97h2" stroke="#777" stroke-width="0.8" fill="none"/>
<polyline points="263.28,530.26 275.40,531.16 287.52,531.62 299.64,559.22 311.76,567.37 315.80,568.27" fill="none" stroke="#e8151f" stroke-width="1.3499999999999999" stroke-linejoin="round"/>
<path d="M263.28 528.46v3.60M262.28 528.46h2M262.28 532.06h2M275.40 529.37v3.60M274.40 529.37h2M274.40 532.96h2M287.52 529.82v3.60M286.52 529.82h2M286.52 533.42h2M299.64 557.42v3.60M298.64 557.42h2M298.64 561.02h2M311.76 565.57v3.60M310.76 565.57h2M310.76 569.16h2M315.80 566.47v3.60M314.80 566.47h2M314.80 570.07h2" stroke="#e8151f" stroke-width="0.8" fill="none"/>
<text x="297.00" y="522.80" font-size="6.2" font-weight="bold" text-anchor="middle" fill="#111" stroke="#111" stroke-width="0.12">PKC412 (multi kinase)</text>
<text x="356.80" y="364.60" font-size="13.0" font-weight="bold" fill="#000">E</text>
<path d="M398 375.0H411" stroke="#111" stroke-width="1.2" stroke-dasharray="2.4 1.6"/>
<text x="414.40" y="377.30" font-size="6.3" font-weight="bold" fill="#111" stroke="#111" stroke-width="0.12">HoxA9 CTL</text>
<path d="M398 384.65H411" stroke="#777" stroke-width="1.2"/>
<text x="414.40" y="386.95" font-size="6.3" font-weight="bold" fill="#111" stroke="#111" stroke-width="0.12">HoxA9 IDH1wt</text>
<path d="M398 394.3H411" stroke="#e8151f" stroke-width="1.2"/>
<text x="414.40" y="396.60" font-size="6.3" font-weight="bold" fill="#111" stroke="#111" stroke-width="0.12">HoxA9 IDH1mut</text>
<path d="M394.6 408.49999999999994V480.4" stroke="#000" stroke-width="1.6" fill="none"/><path d="M394.6 402.7L390.70000000000005 412.09999999999997L394.6 409.49999999999994L398.5 412.09999999999997Z" fill="#000"/>
<path d="M393.8 479.6H502.20000000000005" stroke="#000" stroke-width="1.6" fill="none"/><path d="M508.0 479.6L498.6 475.70000000000005L501.20000000000005 479.6L498.6 483.5Z" fill="#000"/>
<text transform="translate(374.80 446.50) rotate(-90)" font-size="8.35" font-weight="bold" text-anchor="middle" fill="#111" stroke="#111" stroke-width="0.22">Cell viability relative to</text>
<text transform="translate(385.70 445.80) rotate(-90)" font-size="8.35" font-weight="bold" text-anchor="middle" fill="#111" stroke="#111" stroke-width="0.22">untreated cells (%)</text>
<text x="453.80" y="492.40" font-size="8.4" font-weight="bold" text-anchor="middle" fill="#111" stroke="#111" stroke-width="0.22">Drug concentration nM (log<tspan font-size="5.21" dy="0.34">10</tspan><tspan dy="-0.34">)</tspan></text>
<text x="411.60" y="467.90" font-size="6.2" font-weight="bold" text-anchor="end" fill="#111" stroke="#111" stroke-width="0.12">0</text>
<text x="411.60" y="458.83" font-size="6.2" font-weight="bold" text-anchor="end" fill="#111" stroke="#111" stroke-width="0.12">20</text>
<text x="411.60" y="449.77" font-size="6.2" font-weight="bold" text-anchor="end" fill="#111" stroke="#111" stroke-width="0.12">40</text>
<text x="411.60" y="440.70" font-size="6.2" font-weight="bold" text-anchor="end" fill="#111" stroke="#111" stroke-width="0.12">60</text>
<text x="411.60" y="431.63" font-size="6.2" font-weight="bold" text-anchor="end" fill="#111" stroke="#111" stroke-width="0.12">80</text>
<text x="411.60" y="422.57" font-size="6.2" font-weight="bold" text-anchor="end" fill="#111" stroke="#111" stroke-width="0.12">100</text>
<text x="411.60" y="413.50" font-size="6.2" font-weight="bold" text-anchor="end" fill="#111" stroke="#111" stroke-width="0.12">120</text>
<text x="414.40" y="474.60" font-size="6.2" font-weight="bold" text-anchor="middle" fill="#111" stroke="#111" stroke-width="0.12">0</text>
<text x="428.33" y="474.60" font-size="6.2" font-weight="bold" text-anchor="middle" fill="#111" stroke="#111" stroke-width="0.12">1.0</text>
<text x="442.27" y="474.60" font-size="6.2" font-weight="bold" text-anchor="middle" fill="#111" stroke="#111" stroke-width="0.12">2.0</text>
<text x="456.20" y="474.60" font-size="6.2" font-weight="bold" text-anchor="middle" fill="#111" stroke="#111" stroke-width="0.12">3.0</text>
<text x="470.13" y="474.60" font-size="6.2" font-weight="bold" text-anchor="middle" fill="#111" stroke="#111" stroke-width="0.12">4.0</text>
<text x="484.07" y="474.60" font-size="6.2" font-weight="bold" text-anchor="middle" fill="#111" stroke="#111" stroke-width="0.12">5.0</text>
<text x="498.00" y="474.60" font-size="6.2" font-weight="bold" text-anchor="middle" fill="#111" stroke="#111" stroke-width="0.12">6.0</text>
<path d="M414.40 411.40V465.80H498.00M414.40 465.80h-2M414.40 456.73h-2M414.40 447.67h-2M414.40 438.60h-2M414.40 429.53h-2M414.40 420.47h-2M414.40 411.40h-2M414.40 465.80v2M428.33 465.80v2M442.27 465.80v2M456.20 465.80v2M470.13 465.80v2M484.07 465.80v2M498.00 465.80v2" fill="none" stroke="#111" stroke-width="1"/>
<polyline points="414.40,422.28 428.33,424.55 442.27,430.89 456.20,439.96 470.13,452.65 484.07,456.28" fill="none" stroke="#111" stroke-width="1.2" stroke-linejoin="round" stroke-dasharray="3.2 2"/>
<path d="M414.40 420.88v2.80M413.40 420.88h2M413.40 423.68h2M428.33 423.15v2.80M427.33 423.15h2M427.33 425.95h2M442.27 429.49v2.80M441.27 429.49h2M441.27 432.29h2M456.20 438.56v2.80M455.20 438.56h2M455.20 441.36h2M470.13 451.25v2.80M469.13 451.25h2M469.13 454.05h2M484.07 454.88v2.80M483.07 454.88h2M483.07 457.68h2" stroke="#111" stroke-width="0.8" fill="none"/>
<polyline points="414.40,422.28 428.33,425.00 442.27,431.80 456.20,440.87 470.13,453.56 484.07,456.73" fill="none" stroke="#777" stroke-width="0.9" stroke-linejoin="round"/>
<path d="M414.40 420.68v3.20M413.40 420.68h2M413.40 423.88h2M428.33 423.40v3.20M427.33 423.40h2M427.33 426.60h2M442.27 430.20v3.20M441.27 430.20h2M441.27 433.40h2M456.20 439.27v3.20M455.20 439.27h2M455.20 442.47h2M470.13 451.96v3.20M469.13 451.96h2M469.13 455.16h2M484.07 455.13v3.20M483.07 455.13h2M483.07 458.33h2" stroke="#777" stroke-width="0.8" fill="none"/>
<polyline points="414.40,422.28 428.33,425.00 442.27,425.91 456.20,429.53 470.13,444.95 484.07,456.28" fill="none" stroke="#e8151f" stroke-width="1.1" stroke-linejoin="round"/>
<path d="M414.40 420.48v3.60M413.40 420.48h2M413.40 424.08h2M428.33 423.20v3.60M427.33 423.20h2M427.33 426.80h2M442.27 424.11v3.60M441.27 424.11h2M441.27 427.71h2M456.20 427.73v3.60M455.20 427.73h2M455.20 431.33h2M470.13 443.15v3.60M469.13 443.15h2M469.13 446.75h2M484.07 454.48v3.60M483.07 454.48h2M483.07 458.08h2" stroke="#e8151f" stroke-width="0.8" fill="none"/>
<text x="442.27" y="424.69" font-size="5.5" font-weight="bold" text-anchor="middle" fill="#111" stroke="#111" stroke-width="0.2">*</text>
<text x="451.40" y="411.40" font-size="6.2" font-weight="bold" text-anchor="middle" fill="#111" stroke="#111" stroke-width="0.12">AZD6244 (MEK1/2)</text>
<text x="456.60" y="426.50" font-size="5.5" font-weight="bold" text-anchor="middle" fill="#000" stroke="#000" stroke-width="0.2">**</text>
<text x="472.00" y="441.50" font-size="5.5" font-weight="bold" text-anchor="middle" fill="#000" stroke="#000" stroke-width="0.2">**</text>
<text x="356.80" y="519.60" font-size="13.0" font-weight="bold" fill="#000">F</text>
<path d="M394.6 515.1V587.5" stroke="#000" stroke-width="1.6" fill="none"/><path d="M394.6 509.3L390.70000000000005 518.7L394.6 516.1L398.5 518.7Z" fill="#000"/>
<path d="M393.8 586.7H502.70000000000005" stroke="#000" stroke-width="1.6" fill="none"/><path d="M508.5 586.7L499.1 582.8000000000001L501.70000000000005 586.7L499.1 590.6Z" fill="#000"/>
<text transform="translate(374.80 553.40) rotate(-90)" font-size="8.35" font-weight="bold" text-anchor="middle" fill="#111" stroke="#111" stroke-width="0.22">Cell viability relative to</text>
<text transform="translate(385.70 552.70) rotate(-90)" font-size="8.35" font-weight="bold" text-anchor="middle" fill="#111" stroke="#111" stroke-width="0.22">untreated cells (%)</text>
<text x="456.30" y="599.20" font-size="8.45" font-weight="bold" text-anchor="middle" fill="#111" stroke="#111" stroke-width="0.22">Drug concentration nM (log<tspan font-size="5.24" dy="0.34">10</tspan><tspan dy="-0.34">)</tspan></text>
<text x="412.20" y="575.10" font-size="6.2" font-weight="bold" text-anchor="end" fill="#111" stroke="#111" stroke-width="0.12">0</text>
<text x="412.20" y="566.07" font-size="6.2" font-weight="bold" text-anchor="end" fill="#111" stroke="#111" stroke-width="0.12">20</text>
<text x="412.20" y="557.03" font-size="6.2" font-weight="bold" text-anchor="end" fill="#111" stroke="#111" stroke-width="0.12">40</text>
<text x="412.20" y="548.00" font-size="6.2" font-weight="bold" text-anchor="end" fill="#111" stroke="#111" stroke-width="0.12">60</text>
<text x="412.20" y="538.97" font-size="6.2" font-weight="bold" text-anchor="end" fill="#111" stroke="#111" stroke-width="0.12">80</text>
<text x="412.20" y="529.93" font-size="6.2" font-weight="bold" text-anchor="end" fill="#111" stroke="#111" stroke-width="0.12">100</text>
<text x="412.20" y="520.90" font-size="6.2" font-weight="bold" text-anchor="end" fill="#111" stroke="#111" stroke-width="0.12">120</text>
<text x="415.00" y="582.30" font-size="6.2" font-weight="bold" text-anchor="middle" fill="#111" stroke="#111" stroke-width="0.12">- 2.0</text>
<text x="442.47" y="582.30" font-size="6.2" font-weight="bold" text-anchor="middle" fill="#111" stroke="#111" stroke-width="0.12">0.0</text>
<text x="469.93" y="582.30" font-size="6.2" font-weight="bold" text-anchor="middle" fill="#111" stroke="#111" stroke-width="0.12">2.0</text>
<text x="497.40" y="582.30" font-size="6.2" font-weight="bold" text-anchor="middle" fill="#111" stroke="#111" stroke-width="0.12">4.0</text>
<path d="M415.00 518.80V573.00H497.40M415.00 573.00h-2M415.00 563.97h-2M415.00 554.93h-2M415.00 545.90h-2M415.00 536.87h-2M415.00 527.83h-2M415.00 518.80h-2M415.00 573.00v2M442.47 573.00v2M469.93 573.00v2M497.40 573.00v2" fill="none" stroke="#111" stroke-width="1"/>
<polyline points="428.73,530.09 442.47,531.45 456.20,544.09 469.93,550.87 483.67,560.35 497.40,568.93" fill="none" stroke="#111" stroke-width="1.2" stroke-linejoin="round" stroke-dasharray="3.2 2"/>
<path d="M428.73 528.69v2.80M427.73 528.69h2M427.73 531.49h2M442.47 530.05v2.80M441.47 530.05h2M441.47 532.85h2M456.20 542.69v2.80M455.20 542.69h2M455.20 545.49h2M469.93 549.47v2.80M468.93 549.47h2M468.93 552.27h2M483.67 558.95v2.80M482.67 558.95h2M482.67 561.75h2M497.40 567.53v2.80M496.40 567.53h2M496.40 570.33h2" stroke="#111" stroke-width="0.8" fill="none"/>
<polyline points="428.73,529.64 442.47,531.00 456.20,542.29 469.93,548.61 483.67,556.29 497.40,567.13" fill="none" stroke="#777" stroke-width="0.9" stroke-linejoin="round"/>
<path d="M428.73 528.04v3.20M427.73 528.04h2M427.73 531.24h2M442.47 529.39v3.20M441.47 529.39h2M441.47 532.60h2M456.20 540.69v3.20M455.20 540.69h2M455.20 543.89h2M469.93 547.01v3.20M468.93 547.01h2M468.93 550.21h2M483.67 554.69v3.20M482.67 554.69h2M482.67 557.89h2M497.40 565.53v3.20M496.40 565.53h2M496.40 568.73h2" stroke="#777" stroke-width="0.8" fill="none"/>
<polyline points="428.73,529.64 442.47,530.09 456.20,532.35 469.93,537.77 483.67,548.16 497.40,556.29" fill="none" stroke="#e8151f" stroke-width="1.1" stroke-linejoin="round"/>
<path d="M428.73 527.84v3.60M427.73 527.84h2M427.73 531.44h2M442.47 528.29v3.60M441.47 528.29h2M441.47 531.89h2M456.20 530.55v3.60M455.20 530.55h2M455.20 534.15h2M469.93 535.97v3.60M468.93 535.97h2M468.93 539.57h2M483.67 546.36v3.60M482.67 546.36h2M482.67 549.96h2M497.40 554.49v3.60M496.40 554.49h2M496.40 558.09h2" stroke="#e8151f" stroke-width="0.8" fill="none"/>
<text x="456.00" y="517.30" font-size="6.2" font-weight="bold" text-anchor="middle" fill="#111" stroke="#111" stroke-width="0.12">GSK1120212 (MEK1/2)</text>
<text x="456.50" y="528.00" font-size="5.5" font-weight="bold" text-anchor="middle" fill="#000" stroke="#000" stroke-width="0.2">**</text>
<text x="470.00" y="533.50" font-size="5.5" font-weight="bold" text-anchor="middle" fill="#000" stroke="#000" stroke-width="0.2">**</text>
<text x="484.50" y="543.50" font-size="5.5" font-weight="bold" text-anchor="middle" fill="#000" stroke="#000" stroke-width="0.2">**</text>
<text x="497.50" y="552.00" font-size="5.5" font-weight="bold" text-anchor="middle" fill="#000" stroke="#000" stroke-width="0.2">**</text>
<text x="0.80" y="624.40" font-size="13.0" font-weight="bold" fill="#000">G</text>
<text transform="translate(60.20 693.30) rotate(-90)" font-size="6.3" font-weight="bold" text-anchor="start" fill="#111" stroke="#111" stroke-width="0.12">HoxA9 CTL</text>
<text transform="translate(73.10 693.30) rotate(-90)" font-size="6.3" font-weight="bold" text-anchor="start" fill="#111" stroke="#111" stroke-width="0.12">HoxA9 IDH1wt</text>
<text transform="translate(86.30 693.30) rotate(-90)" font-size="6.3" font-weight="bold" text-anchor="start" fill="#111" stroke="#111" stroke-width="0.12">HoxA9 IDH1mut</text>
<clipPath id="cpg1"><rect x="51.9" y="695.8" width="36.9" height="13.800000000000068"/></clipPath>
<rect x="51.9" y="695.8" width="36.9" height="13.800000000000068" fill="#c2c2c2"/>
<g clip-path="url(#cpg1)"><g filter="url(#bblur)">
<rect x="53.80" y="705.50" width="9.00" height="2.00" rx="0.91" fill="#101010" fill-opacity="0.08"/>
<rect x="66.30" y="705.80" width="9.00" height="2.40" rx="1.09" fill="#101010" fill-opacity="0.22"/>
<rect x="66.80" y="701.70" width="8.00" height="1.60" rx="0.73" fill="#101010" fill-opacity="0.08"/>
<rect x="77.20" y="697.00" width="12.00" height="12.00" rx="5.45" fill="#101010" fill-opacity="0.1"/>
<rect x="78.20" y="699.30" width="10.00" height="2.60" rx="1.18" fill="#101010" fill-opacity="0.4"/>
<rect x="78.20" y="703.60" width="10.00" height="2.60" rx="1.18" fill="#101010" fill-opacity="0.34"/>
</g></g>
<clipPath id="cpg2"><rect x="51.9" y="711.2" width="36.9" height="12.5"/></clipPath>
<rect x="51.9" y="711.2" width="36.9" height="12.5" fill="#b4b4b4"/>
<g clip-path="url(#cpg2)"><g filter="url(#bblur)">
<rect x="53.30" y="713.20" width="10.00" height="2.00" rx="0.91" fill="#101010" fill-opacity="0.45"/>
<rect x="53.30" y="717.30" width="10.00" height="2.20" rx="1.00" fill="#101010" fill-opacity="0.5"/>
<rect x="53.80" y="720.90" width="9.00" height="1.60" rx="0.73" fill="#101010" fill-opacity="0.25"/>
<rect x="65.55" y="713.10" width="10.50" height="2.20" rx="1.00" fill="#101010" fill-opacity="0.55"/>
<rect x="65.55" y="717.20" width="10.50" height="2.40" rx="1.09" fill="#101010" fill-opacity="0.62"/>
<rect x="65.80" y="720.80" width="10.00" height="1.80" rx="0.82" fill="#101010" fill-opacity="0.4"/>
<rect x="76.95" y="711.40" width="12.50" height="12.00" rx="5.45" fill="#101010" fill-opacity="0.78"/>
</g></g>
<clipPath id="cpg3"><rect x="51.9" y="726.2" width="36.9" height="9.699999999999932"/></clipPath>
<rect x="51.9" y="726.2" width="36.9" height="9.699999999999932" fill="#bcbcbc"/>
<g clip-path="url(#cpg3)"><g filter="url(#bblur)">
<rect x="52.55" y="728.60" width="11.50" height="3.80" rx="1.73" fill="#101010" fill-opacity="0.74"/>
<rect x="65.05" y="728.50" width="11.50" height="4.00" rx="1.82" fill="#101010" fill-opacity="0.8"/>
<rect x="77.45" y="728.80" width="11.50" height="4.00" rx="1.82" fill="#101010" fill-opacity="0.82"/>
<rect x="52.35" y="729.60" width="36.00" height="2.00" rx="0.91" fill="#101010" fill-opacity="0.35"/>
</g></g>
<text x="47.30" y="706.00" font-size="8.35" font-weight="bold" text-anchor="end" fill="#111" stroke="#111" stroke-width="0.22">p-ERK1/2</text>
<text x="47.30" y="720.30" font-size="8.35" font-weight="bold" text-anchor="end" fill="#111" stroke="#111" stroke-width="0.22">ERK1/2</text>
<text x="47.30" y="734.30" font-size="8.35" font-weight="bold" text-anchor="end" fill="#111" stroke="#111" stroke-width="0.22">ß-actin</text>
<text x="101.80" y="624.40" font-size="13.0" font-weight="bold" fill="#000">H</text>
<rect x="136.2" y="626.30" width="4.8" height="5.8" fill="#fff" stroke="#111" stroke-width="0.8"/>
<text x="142.60" y="631.50" font-size="6.3" font-weight="bold" fill="#111" stroke="#111" stroke-width="0.12">HoxA9 CTL (n=3)</text>
<rect x="136.2" y="634.95" width="4.8" height="5.8" fill="#858585" stroke="#111" stroke-width="0.8"/>
<text x="142.60" y="640.15" font-size="6.3" font-weight="bold" fill="#111" stroke="#111" stroke-width="0.12">HoxA9 IDH1wt (n=3)</text>
<rect x="136.2" y="643.60" width="4.8" height="5.8" fill="#ee1c25" stroke="#111" stroke-width="0.8"/>
<text x="142.60" y="648.80" font-size="6.3" font-weight="bold" fill="#111" stroke="#111" stroke-width="0.12">HoxA9 IDH1mut (n=3)</text>
<text x="132.60" y="740.40" font-size="6.3" font-weight="bold" text-anchor="end" fill="#111" stroke="#111" stroke-width="0.12">0</text>
<text x="132.60" y="730.75" font-size="6.3" font-weight="bold" text-anchor="end" fill="#111" stroke="#111" stroke-width="0.12">2</text>
<text x="132.60" y="721.10" font-size="6.3" font-weight="bold" text-anchor="end" fill="#111" stroke="#111" stroke-width="0.12">4</text>
<text x="132.60" y="711.45" font-size="6.3" font-weight="bold" text-anchor="end" fill="#111" stroke="#111" stroke-width="0.12">6</text>
<text x="132.60" y="701.80" font-size="6.3" font-weight="bold" text-anchor="end" fill="#111" stroke="#111" stroke-width="0.12">8</text>
<text x="132.60" y="692.15" font-size="6.3" font-weight="bold" text-anchor="end" fill="#111" stroke="#111" stroke-width="0.12">10</text>
<text x="132.60" y="682.50" font-size="6.3" font-weight="bold" text-anchor="end" fill="#111" stroke="#111" stroke-width="0.12">12</text>
<text x="132.60" y="672.85" font-size="6.3" font-weight="bold" text-anchor="end" fill="#111" stroke="#111" stroke-width="0.12">14</text>
<text x="132.60" y="663.20" font-size="6.3" font-weight="bold" text-anchor="end" fill="#111" stroke="#111" stroke-width="0.12">16</text>
<rect x="139.0" y="716.97" width="8.40" height="21.23" fill="#fff" stroke="#111" stroke-width="0.9"/>
<rect x="147.4" y="711.66" width="7.80" height="26.54" fill="#858585" stroke="#111" stroke-width="0.9"/>
<rect x="155.2" y="676.92" width="8.30" height="61.28" fill="#f0141e" stroke="#111" stroke-width="0.9"/>
<rect x="175.4" y="730.48" width="8.00" height="7.72" fill="#fff" stroke="#111" stroke-width="0.9"/>
<rect x="183.4" y="730.48" width="7.90" height="7.72" fill="#858585" stroke="#111" stroke-width="0.9"/>
<rect x="191.3" y="724.21" width="8.40" height="13.99" fill="#ee1c25" stroke="#111" stroke-width="0.9"/>
<path d="M135.6 661.00V738.2H204M135.6 738.20h-2.2M135.6 728.55h-2.2M135.6 718.90h-2.2M135.6 709.25h-2.2M135.6 699.60h-2.2M135.6 689.95h-2.2M135.6 680.30h-2.2M135.6 670.65h-2.2M135.6 661.00h-2.2M143.20 716.97V711.18M141.60 711.18h3.2M151.30 711.66V708.77M149.70 708.77h3.2M159.35 676.92V670.65M157.75 670.65h3.2M179.40 730.48V728.07M177.80 728.07h3.2M187.35 730.48V729.03M185.75 729.03h3.2M195.50 724.21V721.80M193.90 721.80h3.2M146.2 661.2H161.8M146.2 659.8v2.8M154.2 659.8v2.8M161.8 659.8v2.8M146.2 668.5H160.5M146.2 667.1v2.8M160.5 667.1v2.8M180.8 708.5H198M180.8 707.1v2.8M189.2 707.1v2.8M198 707.1v2.8M180.8 719.3H194.2M180.8 717.9v2.8M194.2 717.9v2.8" fill="none" stroke="#111" stroke-width="0.9"/>
<text x="150.30" y="659.60" font-size="6.6" text-anchor="middle" fill="#111">ns</text>
<text x="157.80" y="661.00" font-size="6.0" font-weight="bold" text-anchor="middle" fill="#111" stroke="#111" stroke-width="0.2">*</text>
<text x="154.20" y="668.30" font-size="6.0" font-weight="bold" text-anchor="middle" fill="#111" stroke="#111" stroke-width="0.2">*</text>
<text x="184.90" y="706.20" font-size="6.6" text-anchor="middle" fill="#111">ns</text>
<text x="193.20" y="706.20" font-size="6.6" text-anchor="middle" fill="#111">ns</text>
<text x="187.70" y="717.60" font-size="6.6" text-anchor="middle" fill="#111">ns</text>
<text x="151.20" y="748.00" font-size="8.4" font-weight="bold" text-anchor="middle" fill="#111" stroke="#111" stroke-width="0.22">p44</text>
<text x="187.50" y="748.00" font-size="8.4" font-weight="bold" text-anchor="middle" fill="#111" stroke="#111" stroke-width="0.22">p42</text>
<text transform="translate(112.70 696.70) rotate(-90)" font-size="8.3" font-weight="bold" text-anchor="middle" fill="#111" stroke="#111" stroke-width="0.22">Normalized ratio</text>
<text transform="translate(122.40 696.70) rotate(-90)" font-size="8.3" font-weight="bold" text-anchor="middle" fill="#111" stroke="#111" stroke-width="0.22">phospho-ERK / total-ERK</text>
<text x="225.20" y="624.40" font-size="13.0" font-weight="bold" fill="#000">I</text>
<text transform="translate(262.40 667.90) rotate(-90)" font-size="6.3" font-weight="bold" text-anchor="start" fill="#111" stroke="#111" stroke-width="0.12">HoxA9 CTL</text>
<text transform="translate(274.90 667.90) rotate(-90)" font-size="6.3" font-weight="bold" text-anchor="start" fill="#111" stroke="#111" stroke-width="0.12">HoxA9 IDH1wt</text>
<text transform="translate(286.80 667.90) rotate(-90)" font-size="6.3" font-weight="bold" text-anchor="start" fill="#111" stroke="#111" stroke-width="0.12">HoxA9 IDH1mut</text>
<clipPath id="cpi1"><rect x="254.0" y="670.7" width="35.39999999999998" height="12.199999999999932"/></clipPath>
<rect x="254.0" y="670.7" width="35.39999999999998" height="12.199999999999932" fill="#d9d9d9"/>
<g clip-path="url(#cpi1)"><g filter="url(#bblur)">
<rect x="255.00" y="672.80" width="10.00" height="2.40" rx="1.09" fill="#101010" fill-opacity="0.55"/>
<rect x="255.00" y="677.70" width="10.00" height="2.20" rx="1.00" fill="#101010" fill-opacity="0.4"/>
<rect x="267.00" y="672.90" width="10.00" height="2.60" rx="1.18" fill="#101010" fill-opacity="0.6"/>
<rect x="267.50" y="677.80" width="9.00" height="2.00" rx="0.91" fill="#101010" fill-opacity="0.42"/>
<rect x="278.80" y="672.90" width="10.00" height="3.00" rx="1.36" fill="#101010" fill-opacity="0.62"/>
<rect x="278.80" y="677.80" width="10.00" height="2.40" rx="1.09" fill="#101010" fill-opacity="0.5"/>
</g></g>
<clipPath id="cpi2"><rect x="254.0" y="685.3" width="35.39999999999998" height="7.900000000000091"/></clipPath>
<rect x="254.0" y="685.3" width="35.39999999999998" height="7.900000000000091" fill="#e2e2e2"/>
<g clip-path="url(#cpi2)"><g filter="url(#bblur)">
<rect x="255.25" y="688.50" width="9.50" height="1.80" rx="0.82" fill="#101010" fill-opacity="0.62"/>
<rect x="267.25" y="688.45" width="9.50" height="1.90" rx="0.86" fill="#101010" fill-opacity="0.66"/>
<rect x="279.05" y="688.50" width="9.50" height="2.00" rx="0.91" fill="#101010" fill-opacity="0.7"/>
</g></g>
<clipPath id="cpi3"><rect x="254.0" y="695.7" width="35.39999999999998" height="10.299999999999955"/></clipPath>
<rect x="254.0" y="695.7" width="35.39999999999998" height="10.299999999999955" fill="#c6c6c6"/>
<g clip-path="url(#cpi3)"><g filter="url(#bblur)">
<rect x="254.75" y="698.60" width="10.50" height="4.00" rx="1.82" fill="#101010" fill-opacity="0.68"/>
<rect x="266.75" y="698.50" width="10.50" height="4.60" rx="2.09" fill="#101010" fill-opacity="0.82"/>
<rect x="278.55" y="698.00" width="10.50" height="5.00" rx="2.27" fill="#101010" fill-opacity="0.8"/>
</g></g>
<clipPath id="cpi4"><rect x="254.0" y="708.8" width="35.39999999999998" height="7.600000000000023"/></clipPath>
<rect x="254.0" y="708.8" width="35.39999999999998" height="7.600000000000023" fill="#e0e0e0"/>
<g clip-path="url(#cpi4)"><g filter="url(#bblur)">
<rect x="255.00" y="711.65" width="10.00" height="1.90" rx="0.86" fill="#101010" fill-opacity="0.85"/>
<rect x="267.00" y="711.65" width="10.00" height="1.90" rx="0.86" fill="#101010" fill-opacity="0.85"/>
<rect x="278.80" y="711.75" width="10.00" height="1.90" rx="0.86" fill="#101010" fill-opacity="0.85"/>
</g></g>
<clipPath id="cpi5"><rect x="254.0" y="722.6" width="35.39999999999998" height="11.100000000000023"/></clipPath>
<rect x="254.0" y="722.6" width="35.39999999999998" height="11.100000000000023" fill="#dadada"/>
<g clip-path="url(#cpi5)"><g filter="url(#bblur)">
<rect x="255.25" y="727.50" width="9.50" height="2.20" rx="1.00" fill="#101010" fill-opacity="0.38"/>
<rect x="256.00" y="724.80" width="8.00" height="1.60" rx="0.73" fill="#101010" fill-opacity="0.16"/>
<rect x="267.00" y="727.10" width="10.00" height="2.60" rx="1.18" fill="#101010" fill-opacity="0.48"/>
<rect x="267.50" y="724.30" width="9.00" height="1.80" rx="0.82" fill="#101010" fill-opacity="0.3"/>
<rect x="278.30" y="725.00" width="11.00" height="5.20" rx="2.36" fill="#101010" fill-opacity="0.78"/>
</g></g>
<clipPath id="cpi6"><rect x="254.0" y="735.4" width="35.39999999999998" height="7.0"/></clipPath>
<rect x="254.0" y="735.4" width="35.39999999999998" height="7.0" fill="#dedede"/>
<g clip-path="url(#cpi6)"><g filter="url(#bblur)">
<rect x="253.70" y="738.45" width="36.00" height="1.70" rx="0.77" fill="#101010" fill-opacity="0.85"/>
</g></g>
<text x="250.40" y="680.70" font-size="8.35" font-weight="bold" text-anchor="end" fill="#111" stroke="#111" stroke-width="0.22">p-Elk1</text>
<text x="250.40" y="692.20" font-size="8.35" font-weight="bold" text-anchor="end" fill="#111" stroke="#111" stroke-width="0.22">Elk1</text>
<text x="250.40" y="704.30" font-size="8.35" font-weight="bold" text-anchor="end" fill="#111" stroke="#111" stroke-width="0.22">p-RSK</text>
<text x="250.40" y="715.00" font-size="8.35" font-weight="bold" text-anchor="end" fill="#111" stroke="#111" stroke-width="0.22">ß-actin</text>
<text x="250.40" y="731.70" font-size="8.35" font-weight="bold" text-anchor="end" fill="#111" stroke="#111" stroke-width="0.22">p-CREB</text>
<text x="250.40" y="742.20" font-size="8.35" font-weight="bold" text-anchor="end" fill="#111" stroke="#111" stroke-width="0.22">β-actin</text>
<text x="304.60" y="624.40" font-size="13.0" font-weight="bold" fill="#000">J</text>
<text transform="translate(371.00 693.00) rotate(-90)" font-size="6.3" font-weight="bold" text-anchor="start" fill="#111" stroke="#111" stroke-width="0.12">HoxA9 CTL</text>
<text transform="translate(383.60 693.00) rotate(-90)" font-size="6.3" font-weight="bold" text-anchor="start" fill="#111" stroke="#111" stroke-width="0.12">HoxA9 IDH1wt</text>
<text transform="translate(394.80 693.00) rotate(-90)" font-size="6.3" font-weight="bold" text-anchor="start" fill="#111" stroke="#111" stroke-width="0.12">HoxA9 IDH1mut</text>
<clipPath id="cpj1"><rect x="363.0" y="695.0" width="36.39999999999998" height="12.799999999999955"/></clipPath>
<rect x="363.0" y="695.0" width="36.39999999999998" height="12.799999999999955" fill="#d4d4d4"/>
<g clip-path="url(#cpj1)"><g filter="url(#bblur)">
<rect x="364.05" y="698.80" width="10.50" height="4.00" rx="1.82" fill="#101010" fill-opacity="0.74"/>
<rect x="376.05" y="698.10" width="10.50" height="4.60" rx="2.09" fill="#101010" fill-opacity="0.84"/>
<rect x="387.95" y="698.30" width="10.50" height="4.60" rx="2.09" fill="#101010" fill-opacity="0.86"/>
</g></g>
<clipPath id="cpj2"><rect x="363.0" y="711.6" width="36.39999999999998" height="11.0"/></clipPath>
<rect x="363.0" y="711.6" width="36.39999999999998" height="11.0" fill="#d0d0d0"/>
<g clip-path="url(#cpj2)"><g filter="url(#bblur)">
<rect x="363.55" y="715.00" width="11.50" height="4.40" rx="2.00" fill="#101010" fill-opacity="0.82"/>
<rect x="375.55" y="715.10" width="11.50" height="4.60" rx="2.09" fill="#101010" fill-opacity="0.84"/>
<rect x="387.45" y="714.90" width="11.50" height="4.60" rx="2.09" fill="#101010" fill-opacity="0.86"/>
</g></g>
<clipPath id="cpj3"><rect x="363.0" y="728.4" width="36.39999999999998" height="9.5"/></clipPath>
<rect x="363.0" y="728.4" width="36.39999999999998" height="9.5" fill="#dfdfdf"/>
<g clip-path="url(#cpj3)"><g filter="url(#bblur)">
<rect x="364.70" y="732.20" width="33.00" height="2.00" rx="0.91" fill="#101010" fill-opacity="0.85"/>
</g></g>
<text x="359.60" y="704.50" font-size="8.3" font-weight="bold" text-anchor="end" fill="#111" stroke="#111" stroke-width="0.22">activated RAS</text>
<text x="359.60" y="719.70" font-size="8.3" font-weight="bold" text-anchor="end" fill="#111" stroke="#111" stroke-width="0.22">total RAS</text>
<text x="359.60" y="736.40" font-size="8.3" font-weight="bold" text-anchor="end" fill="#111" stroke="#111" stroke-width="0.22">β-actin</text>
<text x="410.80" y="624.40" font-size="13.0" font-weight="bold" fill="#000">K</text>
<text x="447.80" y="719.00" font-size="6.2" font-weight="bold" text-anchor="end" fill="#111" stroke="#111" stroke-width="0.12">0</text>
<text x="447.80" y="701.38" font-size="6.2" font-weight="bold" text-anchor="end" fill="#111" stroke="#111" stroke-width="0.12">1</text>
<text x="447.80" y="683.76" font-size="6.2" font-weight="bold" text-anchor="end" fill="#111" stroke="#111" stroke-width="0.12">2</text>
<text x="447.80" y="666.14" font-size="6.2" font-weight="bold" text-anchor="end" fill="#111" stroke="#111" stroke-width="0.12">3</text>
<text x="447.80" y="648.52" font-size="6.2" font-weight="bold" text-anchor="end" fill="#111" stroke="#111" stroke-width="0.12">4</text>
<text x="447.80" y="630.90" font-size="6.2" font-weight="bold" text-anchor="end" fill="#111" stroke="#111" stroke-width="0.12">5</text>
<rect x="458.0" y="699.18" width="10.00" height="17.62" fill="#fff" stroke="#111" stroke-width="0.9"/>
<rect x="480.8" y="696.54" width="9.40" height="20.26" fill="#a8a8a8" stroke="#111" stroke-width="0.9"/>
<rect x="502.8" y="666.23" width="9.70" height="50.57" fill="#f0141e" stroke="#111" stroke-width="0.9"/>
<path d="M451.4 628.70V716.8H520M451.4 716.80h-2.4M451.4 699.18h-2.4M451.4 681.56h-2.4M451.4 663.94h-2.4M451.4 646.32h-2.4M451.4 628.70h-2.4M485.50 696.54V690.37M481.40 690.37h8.2M507.65 666.23V647.55M503.55 647.55h8.2M474.4 716.8v2.4M496.5 716.8v2.4M518.6 716.8v2.4M465.8 636.6H508.1M465.8 635.0v3.2M508.1 635.0v3.2M483.6 643.8H508.1M483.6 642.2v3.2M508.1 642.2v3.2" fill="none" stroke="#111" stroke-width="0.9"/>
<text x="487.00" y="636.80" font-size="7.0" font-weight="bold" text-anchor="middle" fill="#111" stroke="#111" stroke-width="0.12">*</text>
<text x="496.00" y="644.00" font-size="7.0" font-weight="bold" text-anchor="middle" fill="#111" stroke="#111" stroke-width="0.12">*</text>
<text transform="translate(429.2 672.5) rotate(-90)" font-size="8.3" font-weight="bold" stroke="#111" stroke-width="0.22" text-anchor="middle" fill="#111">Fold-change of H<tspan font-size="5.4" dy="1.2">2</tspan><tspan dy="-1.2">O</tspan><tspan font-size="5.4" dy="1.2">2</tspan></text>
<text transform="translate(438.60 672.50) rotate(-90)" font-size="8.3" font-weight="bold" text-anchor="middle" fill="#111" stroke="#111" stroke-width="0.22">levels over CTL</text>
<text transform="translate(466.80 720.40) rotate(-90)" font-size="6.3" font-weight="bold" text-anchor="end" fill="#111" stroke="#111" stroke-width="0.12">HoxA9 CTL (n=4)</text>
<text transform="translate(488.20 720.40) rotate(-90)" font-size="6.3" font-weight="bold" text-anchor="end" fill="#111" stroke="#111" stroke-width="0.12">HoxA9 IDH1wt (n=4)</text>
<text transform="translate(510.40 720.40) rotate(-90)" font-size="6.3" font-weight="bold" text-anchor="end" fill="#111" stroke="#111" stroke-width="0.12">HoxA9 IDH1mut (n=4)</text>
</svg>
</body></html>
